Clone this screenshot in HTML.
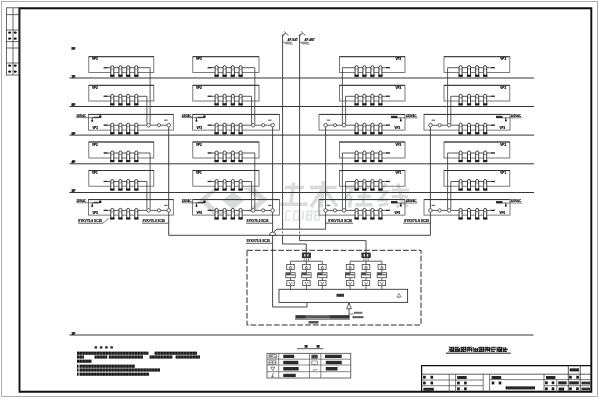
<!DOCTYPE html>
<html><head><meta charset="utf-8"><title>CATV system diagram</title>
<style>
html,body{margin:0;padding:0;background:#fff;}
body{width:600px;height:400px;overflow:hidden;font-family:"Liberation Sans",sans-serif;}
svg{display:block;font-family:"Liberation Sans",sans-serif;}
</style></head><body>
<svg width="600" height="400" viewBox="0 0 600 400">
<defs><pattern id="cjk" x="77" y="0" width="2.9" height="3.2" patternUnits="userSpaceOnUse"><rect x="0" y="0" width="2.9" height="3.2" fill="#000"/><rect x="2.5" y="0" width="0.4" height="3.2" fill="#888"/><rect x="0.9" y="1.2" width="0.6" height="0.6" fill="#666"/></pattern><filter id="bl" x="0" y="0" width="100%" height="100%"><feGaussianBlur stdDeviation="0.38"/></filter></defs>
<rect x="0" y="0" width="600" height="400" fill="#fff"/>
<g filter="url(#bl)">
<path d="M199 199.5 L214.5 187.5 L220.5 187.5 L206.5 199.5 L217 210 L225 210 L230 214.5 L213 214.5 Z" fill="#d9dcdf"/><path d="M222 200.5 L233 191.5 L244 200.5 L233 209.5 Z" fill="#d9dcdf"/><path d="M240 187.5 L254 187.5 L268 199.5 L254 212 L247 212 L259.5 199.5 L247.5 190.5 Z" fill="#d9dcdf"/><path d="M285 187.5 H304 M293.8 182.5 L290.8 204 M280.5 204.2 H307.5" fill="none" stroke="#d9dcdf" stroke-width="3.6" stroke-linecap="butt" stroke-linejoin="miter"/><path d="M310 187.5 H336.5 M323.6 181 L321 207.5 M322 190 L311 207 M325 190 L337 206.5" fill="none" stroke="#d9dcdf" stroke-width="3.6" stroke-linecap="butt" stroke-linejoin="miter"/><path d="M345 187.5 H372 M358 181.5 L345 199 M351 195 L349.5 207.5 M357.5 196.5 H371 M364.5 191.5 L363 204.5 M355.5 204.8 H372.5" fill="none" stroke="#d9dcdf" stroke-width="3.4" stroke-linecap="butt" stroke-linejoin="miter"/><path d="M386 183.5 L380 191.5 H387 L379.5 200 H388 M379 205.5 L388.5 203.5 M392 190 H409 M391.5 196.5 H408 M398 183.5 L402.5 203 L408 206.5 M409 199 L396.5 207" fill="none" stroke="#d9dcdf" stroke-width="3.0" stroke-linecap="butt" stroke-linejoin="miter"/><path d="M291 211 H286.5 L285.5 220 H290 M294.5 211 H299.5 L298.5 220 H293.5 Z M303.5 211 L302.5 220 M307.5 211 H312 L311 220 H306.5 Z M307 215.5 H311.5 M315.5 211 H320 L319 220 H314.5 Z M315 215.5 H319.5" fill="none" stroke="#dfe2e5" stroke-width="1.6" stroke-linecap="butt" stroke-linejoin="miter"/>
<rect x="1.5" y="1.5" width="596" height="395" stroke="#9a9a9a" stroke-width="0.8" fill="none" />
<path d="M19.5 8.3 H591.3 V391.8 H19.5 Z" fill="none" stroke="#111" stroke-width="1.9"/>
<rect x="6.4" y="7.8" width="12.6" height="67.2" stroke="#444" stroke-width="0.8" fill="none" />
<line x1="13" y1="7.8" x2="13" y2="75" stroke="#444" stroke-width="0.8" />
<line x1="6.4" y1="14.6" x2="19" y2="14.6" stroke="#444" stroke-width="0.8" />
<line x1="6.4" y1="30" x2="19" y2="30" stroke="#444" stroke-width="0.8" />
<line x1="6.4" y1="41.6" x2="19" y2="41.6" stroke="#444" stroke-width="0.8" />
<line x1="6.4" y1="48" x2="19" y2="48" stroke="#444" stroke-width="0.8" />
<line x1="6.4" y1="63" x2="19" y2="63" stroke="#444" stroke-width="0.8" />
<ellipse cx="9.6" cy="32.6" rx="1.5" ry="1.2" fill="#111"/>
<ellipse cx="15.2" cy="32.6" rx="1.5" ry="1.2" fill="#111"/>
<ellipse cx="9.6" cy="38.6" rx="1.5" ry="1.2" fill="#111"/>
<ellipse cx="15.2" cy="38.6" rx="1.5" ry="1.2" fill="#111"/>
<ellipse cx="9.6" cy="65.6" rx="1.5" ry="1.2" fill="#111"/>
<ellipse cx="15.2" cy="65.6" rx="1.5" ry="1.2" fill="#111"/>
<ellipse cx="9.6" cy="71.6" rx="1.5" ry="1.2" fill="#111"/>
<ellipse cx="15.2" cy="71.6" rx="1.5" ry="1.2" fill="#111"/>
<line x1="69.5" y1="78" x2="534" y2="78" stroke="#2a2a2a" stroke-width="0.95" />
<line x1="69.5" y1="106.5" x2="534" y2="106.5" stroke="#2a2a2a" stroke-width="0.95" />
<line x1="69.5" y1="135.1" x2="534" y2="135.1" stroke="#2a2a2a" stroke-width="0.95" />
<line x1="69.5" y1="163.8" x2="534" y2="163.8" stroke="#2a2a2a" stroke-width="0.95" />
<line x1="69.5" y1="192.5" x2="534" y2="192.5" stroke="#2a2a2a" stroke-width="0.95" />
<line x1="69.5" y1="335" x2="533.5" y2="335" stroke="#2a2a2a" stroke-width="0.95" />
<text x="71.4" y="49.7" font-size="3.7" fill="#000" font-weight="bold" stroke="#000" stroke-width="0.18" textLength="4.0" lengthAdjust="spacingAndGlyphs">RF</text>
<rect x="71.6" y="47.300000000000004" width="3.6" height="2.3" fill="#000" opacity="0.35" stroke="none"/>
<text x="71.4" y="77.5" font-size="3.7" fill="#000" font-weight="bold" stroke="#000" stroke-width="0.18" textLength="4.0" lengthAdjust="spacingAndGlyphs">7F</text>
<rect x="71.6" y="75.1" width="3.6" height="2.3" fill="#000" opacity="0.35" stroke="none"/>
<text x="71.4" y="106.0" font-size="3.7" fill="#000" font-weight="bold" stroke="#000" stroke-width="0.18" textLength="4.0" lengthAdjust="spacingAndGlyphs">6F</text>
<rect x="71.6" y="103.6" width="3.6" height="2.3" fill="#000" opacity="0.35" stroke="none"/>
<text x="71.4" y="134.6" font-size="3.7" fill="#000" font-weight="bold" stroke="#000" stroke-width="0.18" textLength="4.0" lengthAdjust="spacingAndGlyphs">5F</text>
<rect x="71.6" y="132.2" width="3.6" height="2.3" fill="#000" opacity="0.35" stroke="none"/>
<text x="71.4" y="163.3" font-size="3.7" fill="#000" font-weight="bold" stroke="#000" stroke-width="0.18" textLength="4.0" lengthAdjust="spacingAndGlyphs">4F</text>
<rect x="71.6" y="160.9" width="3.6" height="2.3" fill="#000" opacity="0.35" stroke="none"/>
<text x="71.4" y="192.0" font-size="3.7" fill="#000" font-weight="bold" stroke="#000" stroke-width="0.18" textLength="4.0" lengthAdjust="spacingAndGlyphs">3F</text>
<rect x="71.6" y="189.6" width="3.6" height="2.3" fill="#000" opacity="0.35" stroke="none"/>
<text x="71.4" y="334.5" font-size="3.7" fill="#000" font-weight="bold" stroke="#000" stroke-width="0.18" textLength="4.0" lengthAdjust="spacingAndGlyphs">1F</text>
<rect x="71.6" y="332.1" width="3.6" height="2.3" fill="#000" opacity="0.35" stroke="none"/>
<rect x="88.8" y="56.7" width="65.00000000000001" height="15.700000000000003" stroke="#5a5a5a" stroke-width="0.8" fill="none" />
<line x1="88.8" y1="56.7" x2="153.8" y2="56.7" stroke="#333" stroke-width="1.0" />
<line x1="104" y1="67.7" x2="150.1" y2="67.7" stroke="#333" stroke-width="0.8" />
<line x1="150.1" y1="67.7" x2="150.1" y2="123.7" stroke="#333" stroke-width="0.8" />
<rect x="103.5" y="67.0" width="4" height="1.3" fill="#222" opacity="0.8" stroke="none"/>
<path d="M110.8 76.30000000000001 V67.10000000000001 Q110.8 65.7 112.3 65.7 Q113.8 65.7 113.8 67.10000000000001 V76.30000000000001" fill="#fff" stroke="#262626" stroke-width="0.9"/>
<line x1="110.8" y1="69.10000000000001" x2="113.8" y2="69.10000000000001" stroke="#555" stroke-width="0.6" />
<rect x="110.2" y="74.7" width="4.2" height="2.2" fill="#111" opacity="0.95" stroke="none"/>
<path d="M118.9 76.30000000000001 V67.10000000000001 Q118.9 65.7 120.4 65.7 Q121.9 65.7 121.9 67.10000000000001 V76.30000000000001" fill="#fff" stroke="#262626" stroke-width="0.9"/>
<line x1="118.9" y1="69.10000000000001" x2="121.9" y2="69.10000000000001" stroke="#555" stroke-width="0.6" />
<rect x="118.30000000000001" y="74.7" width="4.2" height="2.2" fill="#111" opacity="0.95" stroke="none"/>
<path d="M126.69999999999999 76.30000000000001 V67.10000000000001 Q126.69999999999999 65.7 128.2 65.7 Q129.7 65.7 129.7 67.10000000000001 V76.30000000000001" fill="#fff" stroke="#262626" stroke-width="0.9"/>
<line x1="126.69999999999999" y1="69.10000000000001" x2="129.7" y2="69.10000000000001" stroke="#555" stroke-width="0.6" />
<rect x="126.1" y="74.7" width="4.2" height="2.2" fill="#111" opacity="0.95" stroke="none"/>
<path d="M134.8 76.30000000000001 V67.10000000000001 Q134.8 65.7 136.3 65.7 Q137.8 65.7 137.8 67.10000000000001 V76.30000000000001" fill="#fff" stroke="#262626" stroke-width="0.9"/>
<line x1="134.8" y1="69.10000000000001" x2="137.8" y2="69.10000000000001" stroke="#555" stroke-width="0.6" />
<rect x="134.20000000000002" y="74.7" width="4.2" height="2.2" fill="#111" opacity="0.95" stroke="none"/>
<text x="92.0" y="60.300000000000004" font-size="3.5" fill="#000" font-weight="bold" stroke="#000" stroke-width="0.18" textLength="5.8" lengthAdjust="spacingAndGlyphs">VP3</text>
<rect x="88.8" y="85.3" width="65.00000000000001" height="15.700000000000003" stroke="#5a5a5a" stroke-width="0.8" fill="none" />
<line x1="88.8" y1="85.3" x2="153.8" y2="85.3" stroke="#333" stroke-width="1.0" />
<line x1="104" y1="96.3" x2="146.9" y2="96.3" stroke="#333" stroke-width="0.8" />
<line x1="146.9" y1="96.3" x2="146.9" y2="123.7" stroke="#333" stroke-width="0.8" />
<rect x="103.5" y="95.6" width="4" height="1.3" fill="#222" opacity="0.8" stroke="none"/>
<path d="M110.8 104.9 V95.7 Q110.8 94.3 112.3 94.3 Q113.8 94.3 113.8 95.7 V104.9" fill="#fff" stroke="#262626" stroke-width="0.9"/>
<line x1="110.8" y1="97.7" x2="113.8" y2="97.7" stroke="#555" stroke-width="0.6" />
<rect x="110.2" y="103.3" width="4.2" height="2.2" fill="#111" opacity="0.95" stroke="none"/>
<path d="M118.9 104.9 V95.7 Q118.9 94.3 120.4 94.3 Q121.9 94.3 121.9 95.7 V104.9" fill="#fff" stroke="#262626" stroke-width="0.9"/>
<line x1="118.9" y1="97.7" x2="121.9" y2="97.7" stroke="#555" stroke-width="0.6" />
<rect x="118.30000000000001" y="103.3" width="4.2" height="2.2" fill="#111" opacity="0.95" stroke="none"/>
<path d="M126.69999999999999 104.9 V95.7 Q126.69999999999999 94.3 128.2 94.3 Q129.7 94.3 129.7 95.7 V104.9" fill="#fff" stroke="#262626" stroke-width="0.9"/>
<line x1="126.69999999999999" y1="97.7" x2="129.7" y2="97.7" stroke="#555" stroke-width="0.6" />
<rect x="126.1" y="103.3" width="4.2" height="2.2" fill="#111" opacity="0.95" stroke="none"/>
<path d="M134.8 104.9 V95.7 Q134.8 94.3 136.3 94.3 Q137.8 94.3 137.8 95.7 V104.9" fill="#fff" stroke="#262626" stroke-width="0.9"/>
<line x1="134.8" y1="97.7" x2="137.8" y2="97.7" stroke="#555" stroke-width="0.6" />
<rect x="134.20000000000002" y="103.3" width="4.2" height="2.2" fill="#111" opacity="0.95" stroke="none"/>
<text x="92.0" y="88.89999999999999" font-size="3.5" fill="#000" font-weight="bold" stroke="#000" stroke-width="0.18" textLength="5.8" lengthAdjust="spacingAndGlyphs">VP2</text>
<rect x="88.4" y="114.4" width="84.9" height="15.699999999999989" stroke="#5a5a5a" stroke-width="0.8" fill="none" />
<line x1="88.4" y1="114.4" x2="173.3" y2="114.4" stroke="#333" stroke-width="1.0" />
<line x1="104" y1="125.2" x2="168.7" y2="125.2" stroke="#333" stroke-width="0.8" />
<rect x="103.5" y="124.5" width="4" height="1.3" fill="#222" opacity="0.8" stroke="none"/>
<path d="M110.8 133.8 V124.60000000000001 Q110.8 123.2 112.3 123.2 Q113.8 123.2 113.8 124.60000000000001 V133.8" fill="#fff" stroke="#262626" stroke-width="0.9"/>
<line x1="110.8" y1="126.60000000000001" x2="113.8" y2="126.60000000000001" stroke="#555" stroke-width="0.6" />
<rect x="110.2" y="132.20000000000002" width="4.2" height="2.2" fill="#111" opacity="0.95" stroke="none"/>
<path d="M118.9 133.8 V124.60000000000001 Q118.9 123.2 120.4 123.2 Q121.9 123.2 121.9 124.60000000000001 V133.8" fill="#fff" stroke="#262626" stroke-width="0.9"/>
<line x1="118.9" y1="126.60000000000001" x2="121.9" y2="126.60000000000001" stroke="#555" stroke-width="0.6" />
<rect x="118.30000000000001" y="132.20000000000002" width="4.2" height="2.2" fill="#111" opacity="0.95" stroke="none"/>
<path d="M126.69999999999999 133.8 V124.60000000000001 Q126.69999999999999 123.2 128.2 123.2 Q129.7 123.2 129.7 124.60000000000001 V133.8" fill="#fff" stroke="#262626" stroke-width="0.9"/>
<line x1="126.69999999999999" y1="126.60000000000001" x2="129.7" y2="126.60000000000001" stroke="#555" stroke-width="0.6" />
<rect x="126.1" y="132.20000000000002" width="4.2" height="2.2" fill="#111" opacity="0.95" stroke="none"/>
<path d="M134.8 133.8 V124.60000000000001 Q134.8 123.2 136.3 123.2 Q137.8 123.2 137.8 124.60000000000001 V133.8" fill="#fff" stroke="#262626" stroke-width="0.9"/>
<line x1="134.8" y1="126.60000000000001" x2="137.8" y2="126.60000000000001" stroke="#555" stroke-width="0.6" />
<rect x="134.20000000000002" y="132.20000000000002" width="4.2" height="2.2" fill="#111" opacity="0.95" stroke="none"/>
<text x="92.4" y="128.5" font-size="3.4" fill="#000" font-weight="bold" stroke="#000" stroke-width="0.18" textLength="5.6" lengthAdjust="spacingAndGlyphs">VP3</text>
<circle cx="148.5" cy="125.2" r="1.8" stroke="#3a3a3a" stroke-width="0.8" fill="#fff"/>
<circle cx="159" cy="125.2" r="1.6" stroke="#3a3a3a" stroke-width="0.8" fill="#fff"/>
<circle cx="168.7" cy="125.2" r="1.8" stroke="#3a3a3a" stroke-width="0.8" fill="#fff"/>
<rect x="164.2" y="119.60000000000001" width="3.4" height="1.2" fill="#333" opacity="0.75" stroke="none"/>
<text x="76.4" y="117.0" font-size="3.2" fill="#111" font-weight="bold" stroke="#111" stroke-width="0.18" textLength="9.399999999999991" lengthAdjust="spacingAndGlyphs">220VAC</text>
<line x1="76.4" y1="117.6" x2="100.9" y2="117.6" stroke="#444" stroke-width="0.7" />
<rect x="99.0" y="115.4" width="2.4" height="2.4" fill="#111" opacity="0.9" stroke="none"/>
<rect x="93.4" y="116.6" width="5.5" height="1.6" fill="#222" opacity="0.7" stroke="none"/>
<line x1="92.2" y1="117.6" x2="92.2" y2="121.4" stroke="#222" stroke-width="0.9" />
<rect x="91.4" y="120.0" width="1.7" height="1.7" fill="#111" opacity="0.9" stroke="none"/>
<rect x="88.8" y="142.0" width="65.00000000000001" height="16.0" stroke="#5a5a5a" stroke-width="0.8" fill="none" />
<line x1="88.8" y1="142.0" x2="153.8" y2="142.0" stroke="#333" stroke-width="1.0" />
<line x1="104" y1="153.0" x2="150.1" y2="153.0" stroke="#333" stroke-width="0.8" />
<line x1="150.1" y1="153.0" x2="150.1" y2="208.9" stroke="#333" stroke-width="0.8" />
<rect x="103.5" y="152.3" width="4" height="1.3" fill="#222" opacity="0.8" stroke="none"/>
<path d="M110.8 161.6 V152.4 Q110.8 151.0 112.3 151.0 Q113.8 151.0 113.8 152.4 V161.6" fill="#fff" stroke="#262626" stroke-width="0.9"/>
<line x1="110.8" y1="154.4" x2="113.8" y2="154.4" stroke="#555" stroke-width="0.6" />
<rect x="110.2" y="160.0" width="4.2" height="2.2" fill="#111" opacity="0.95" stroke="none"/>
<path d="M118.9 161.6 V152.4 Q118.9 151.0 120.4 151.0 Q121.9 151.0 121.9 152.4 V161.6" fill="#fff" stroke="#262626" stroke-width="0.9"/>
<line x1="118.9" y1="154.4" x2="121.9" y2="154.4" stroke="#555" stroke-width="0.6" />
<rect x="118.30000000000001" y="160.0" width="4.2" height="2.2" fill="#111" opacity="0.95" stroke="none"/>
<path d="M126.69999999999999 161.6 V152.4 Q126.69999999999999 151.0 128.2 151.0 Q129.7 151.0 129.7 152.4 V161.6" fill="#fff" stroke="#262626" stroke-width="0.9"/>
<line x1="126.69999999999999" y1="154.4" x2="129.7" y2="154.4" stroke="#555" stroke-width="0.6" />
<rect x="126.1" y="160.0" width="4.2" height="2.2" fill="#111" opacity="0.95" stroke="none"/>
<path d="M134.8 161.6 V152.4 Q134.8 151.0 136.3 151.0 Q137.8 151.0 137.8 152.4 V161.6" fill="#fff" stroke="#262626" stroke-width="0.9"/>
<line x1="134.8" y1="154.4" x2="137.8" y2="154.4" stroke="#555" stroke-width="0.6" />
<rect x="134.20000000000002" y="160.0" width="4.2" height="2.2" fill="#111" opacity="0.95" stroke="none"/>
<text x="92.0" y="145.6" font-size="3.5" fill="#000" font-weight="bold" stroke="#000" stroke-width="0.18" textLength="5.8" lengthAdjust="spacingAndGlyphs">VP2</text>
<rect x="88.8" y="170.5" width="65.00000000000001" height="15.699999999999989" stroke="#5a5a5a" stroke-width="0.8" fill="none" />
<line x1="88.8" y1="170.5" x2="153.8" y2="170.5" stroke="#333" stroke-width="1.0" />
<line x1="104" y1="181.5" x2="146.9" y2="181.5" stroke="#333" stroke-width="0.8" />
<line x1="146.9" y1="181.5" x2="146.9" y2="208.9" stroke="#333" stroke-width="0.8" />
<rect x="103.5" y="180.8" width="4" height="1.3" fill="#222" opacity="0.8" stroke="none"/>
<path d="M110.8 190.1 V180.9 Q110.8 179.5 112.3 179.5 Q113.8 179.5 113.8 180.9 V190.1" fill="#fff" stroke="#262626" stroke-width="0.9"/>
<line x1="110.8" y1="182.9" x2="113.8" y2="182.9" stroke="#555" stroke-width="0.6" />
<rect x="110.2" y="188.5" width="4.2" height="2.2" fill="#111" opacity="0.95" stroke="none"/>
<path d="M118.9 190.1 V180.9 Q118.9 179.5 120.4 179.5 Q121.9 179.5 121.9 180.9 V190.1" fill="#fff" stroke="#262626" stroke-width="0.9"/>
<line x1="118.9" y1="182.9" x2="121.9" y2="182.9" stroke="#555" stroke-width="0.6" />
<rect x="118.30000000000001" y="188.5" width="4.2" height="2.2" fill="#111" opacity="0.95" stroke="none"/>
<path d="M126.69999999999999 190.1 V180.9 Q126.69999999999999 179.5 128.2 179.5 Q129.7 179.5 129.7 180.9 V190.1" fill="#fff" stroke="#262626" stroke-width="0.9"/>
<line x1="126.69999999999999" y1="182.9" x2="129.7" y2="182.9" stroke="#555" stroke-width="0.6" />
<rect x="126.1" y="188.5" width="4.2" height="2.2" fill="#111" opacity="0.95" stroke="none"/>
<path d="M134.8 190.1 V180.9 Q134.8 179.5 136.3 179.5 Q137.8 179.5 137.8 180.9 V190.1" fill="#fff" stroke="#262626" stroke-width="0.9"/>
<line x1="134.8" y1="182.9" x2="137.8" y2="182.9" stroke="#555" stroke-width="0.6" />
<rect x="134.20000000000002" y="188.5" width="4.2" height="2.2" fill="#111" opacity="0.95" stroke="none"/>
<text x="92.0" y="174.1" font-size="3.5" fill="#000" font-weight="bold" stroke="#000" stroke-width="0.18" textLength="5.8" lengthAdjust="spacingAndGlyphs">VP1</text>
<rect x="88.4" y="199.6" width="84.9" height="15.5" stroke="#5a5a5a" stroke-width="0.8" fill="none" />
<line x1="88.4" y1="199.6" x2="173.3" y2="199.6" stroke="#333" stroke-width="1.0" />
<line x1="104" y1="210.4" x2="168.7" y2="210.4" stroke="#333" stroke-width="0.8" />
<rect x="103.5" y="209.70000000000002" width="4" height="1.3" fill="#222" opacity="0.8" stroke="none"/>
<path d="M110.8 219.0 V209.8 Q110.8 208.4 112.3 208.4 Q113.8 208.4 113.8 209.8 V219.0" fill="#fff" stroke="#262626" stroke-width="0.9"/>
<line x1="110.8" y1="211.8" x2="113.8" y2="211.8" stroke="#555" stroke-width="0.6" />
<rect x="110.2" y="217.4" width="4.2" height="2.2" fill="#111" opacity="0.95" stroke="none"/>
<path d="M118.9 219.0 V209.8 Q118.9 208.4 120.4 208.4 Q121.9 208.4 121.9 209.8 V219.0" fill="#fff" stroke="#262626" stroke-width="0.9"/>
<line x1="118.9" y1="211.8" x2="121.9" y2="211.8" stroke="#555" stroke-width="0.6" />
<rect x="118.30000000000001" y="217.4" width="4.2" height="2.2" fill="#111" opacity="0.95" stroke="none"/>
<path d="M126.69999999999999 219.0 V209.8 Q126.69999999999999 208.4 128.2 208.4 Q129.7 208.4 129.7 209.8 V219.0" fill="#fff" stroke="#262626" stroke-width="0.9"/>
<line x1="126.69999999999999" y1="211.8" x2="129.7" y2="211.8" stroke="#555" stroke-width="0.6" />
<rect x="126.1" y="217.4" width="4.2" height="2.2" fill="#111" opacity="0.95" stroke="none"/>
<path d="M134.8 219.0 V209.8 Q134.8 208.4 136.3 208.4 Q137.8 208.4 137.8 209.8 V219.0" fill="#fff" stroke="#262626" stroke-width="0.9"/>
<line x1="134.8" y1="211.8" x2="137.8" y2="211.8" stroke="#555" stroke-width="0.6" />
<rect x="134.20000000000002" y="217.4" width="4.2" height="2.2" fill="#111" opacity="0.95" stroke="none"/>
<text x="92.4" y="213.5" font-size="3.4" fill="#000" font-weight="bold" stroke="#000" stroke-width="0.18" textLength="5.6" lengthAdjust="spacingAndGlyphs">VP0</text>
<circle cx="148.5" cy="210.4" r="1.8" stroke="#3a3a3a" stroke-width="0.8" fill="#fff"/>
<circle cx="159" cy="210.4" r="1.6" stroke="#3a3a3a" stroke-width="0.8" fill="#fff"/>
<circle cx="168.7" cy="210.4" r="1.8" stroke="#3a3a3a" stroke-width="0.8" fill="#fff"/>
<rect x="164.2" y="204.8" width="3.4" height="1.2" fill="#333" opacity="0.75" stroke="none"/>
<text x="76.4" y="202.2" font-size="3.2" fill="#111" font-weight="bold" stroke="#111" stroke-width="0.18" textLength="9.399999999999991" lengthAdjust="spacingAndGlyphs">220VAC</text>
<line x1="76.4" y1="202.79999999999998" x2="100.9" y2="202.79999999999998" stroke="#444" stroke-width="0.7" />
<rect x="99.0" y="200.6" width="2.4" height="2.4" fill="#111" opacity="0.9" stroke="none"/>
<rect x="93.4" y="201.79999999999998" width="5.5" height="1.6" fill="#222" opacity="0.7" stroke="none"/>
<line x1="92.2" y1="202.79999999999998" x2="92.2" y2="206.6" stroke="#222" stroke-width="0.9" />
<rect x="91.4" y="205.2" width="1.7" height="1.7" fill="#111" opacity="0.9" stroke="none"/>
<rect x="192.8" y="56.7" width="66.19999999999999" height="15.700000000000003" stroke="#5a5a5a" stroke-width="0.8" fill="none" />
<line x1="192.8" y1="56.7" x2="259" y2="56.7" stroke="#333" stroke-width="1.0" />
<line x1="208" y1="67.7" x2="254.79999999999998" y2="67.7" stroke="#333" stroke-width="0.8" />
<line x1="254.79999999999998" y1="67.7" x2="254.79999999999998" y2="123.7" stroke="#333" stroke-width="0.8" />
<rect x="207.5" y="67.0" width="4" height="1.3" fill="#222" opacity="0.8" stroke="none"/>
<path d="M215.1 76.30000000000001 V67.10000000000001 Q215.1 65.7 216.6 65.7 Q218.1 65.7 218.1 67.10000000000001 V76.30000000000001" fill="#fff" stroke="#262626" stroke-width="0.9"/>
<line x1="215.1" y1="69.10000000000001" x2="218.1" y2="69.10000000000001" stroke="#555" stroke-width="0.6" />
<rect x="214.5" y="74.7" width="4.2" height="2.2" fill="#111" opacity="0.95" stroke="none"/>
<path d="M223.1 76.30000000000001 V67.10000000000001 Q223.1 65.7 224.6 65.7 Q226.1 65.7 226.1 67.10000000000001 V76.30000000000001" fill="#fff" stroke="#262626" stroke-width="0.9"/>
<line x1="223.1" y1="69.10000000000001" x2="226.1" y2="69.10000000000001" stroke="#555" stroke-width="0.6" />
<rect x="222.5" y="74.7" width="4.2" height="2.2" fill="#111" opacity="0.95" stroke="none"/>
<path d="M231.3 76.30000000000001 V67.10000000000001 Q231.3 65.7 232.8 65.7 Q234.3 65.7 234.3 67.10000000000001 V76.30000000000001" fill="#fff" stroke="#262626" stroke-width="0.9"/>
<line x1="231.3" y1="69.10000000000001" x2="234.3" y2="69.10000000000001" stroke="#555" stroke-width="0.6" />
<rect x="230.70000000000002" y="74.7" width="4.2" height="2.2" fill="#111" opacity="0.95" stroke="none"/>
<path d="M239.1 76.30000000000001 V67.10000000000001 Q239.1 65.7 240.6 65.7 Q242.1 65.7 242.1 67.10000000000001 V76.30000000000001" fill="#fff" stroke="#262626" stroke-width="0.9"/>
<line x1="239.1" y1="69.10000000000001" x2="242.1" y2="69.10000000000001" stroke="#555" stroke-width="0.6" />
<rect x="238.5" y="74.7" width="4.2" height="2.2" fill="#111" opacity="0.95" stroke="none"/>
<text x="196.0" y="60.300000000000004" font-size="3.5" fill="#000" font-weight="bold" stroke="#000" stroke-width="0.18" textLength="5.8" lengthAdjust="spacingAndGlyphs">VP3</text>
<rect x="192.8" y="85.3" width="66.19999999999999" height="15.700000000000003" stroke="#5a5a5a" stroke-width="0.8" fill="none" />
<line x1="192.8" y1="85.3" x2="259" y2="85.3" stroke="#333" stroke-width="1.0" />
<line x1="208" y1="96.3" x2="251.6" y2="96.3" stroke="#333" stroke-width="0.8" />
<line x1="251.6" y1="96.3" x2="251.6" y2="123.7" stroke="#333" stroke-width="0.8" />
<rect x="207.5" y="95.6" width="4" height="1.3" fill="#222" opacity="0.8" stroke="none"/>
<path d="M215.1 104.9 V95.7 Q215.1 94.3 216.6 94.3 Q218.1 94.3 218.1 95.7 V104.9" fill="#fff" stroke="#262626" stroke-width="0.9"/>
<line x1="215.1" y1="97.7" x2="218.1" y2="97.7" stroke="#555" stroke-width="0.6" />
<rect x="214.5" y="103.3" width="4.2" height="2.2" fill="#111" opacity="0.95" stroke="none"/>
<path d="M223.1 104.9 V95.7 Q223.1 94.3 224.6 94.3 Q226.1 94.3 226.1 95.7 V104.9" fill="#fff" stroke="#262626" stroke-width="0.9"/>
<line x1="223.1" y1="97.7" x2="226.1" y2="97.7" stroke="#555" stroke-width="0.6" />
<rect x="222.5" y="103.3" width="4.2" height="2.2" fill="#111" opacity="0.95" stroke="none"/>
<path d="M231.3 104.9 V95.7 Q231.3 94.3 232.8 94.3 Q234.3 94.3 234.3 95.7 V104.9" fill="#fff" stroke="#262626" stroke-width="0.9"/>
<line x1="231.3" y1="97.7" x2="234.3" y2="97.7" stroke="#555" stroke-width="0.6" />
<rect x="230.70000000000002" y="103.3" width="4.2" height="2.2" fill="#111" opacity="0.95" stroke="none"/>
<path d="M239.1 104.9 V95.7 Q239.1 94.3 240.6 94.3 Q242.1 94.3 242.1 95.7 V104.9" fill="#fff" stroke="#262626" stroke-width="0.9"/>
<line x1="239.1" y1="97.7" x2="242.1" y2="97.7" stroke="#555" stroke-width="0.6" />
<rect x="238.5" y="103.3" width="4.2" height="2.2" fill="#111" opacity="0.95" stroke="none"/>
<text x="196.0" y="88.89999999999999" font-size="3.5" fill="#000" font-weight="bold" stroke="#000" stroke-width="0.18" textLength="5.8" lengthAdjust="spacingAndGlyphs">VP2</text>
<rect x="192.6" y="114.4" width="86.9" height="15.699999999999989" stroke="#5a5a5a" stroke-width="0.8" fill="none" />
<line x1="192.6" y1="114.4" x2="279.5" y2="114.4" stroke="#333" stroke-width="1.0" />
<line x1="208" y1="125.2" x2="272.6" y2="125.2" stroke="#333" stroke-width="0.8" />
<rect x="207.5" y="124.5" width="4" height="1.3" fill="#222" opacity="0.8" stroke="none"/>
<path d="M215.1 133.8 V124.60000000000001 Q215.1 123.2 216.6 123.2 Q218.1 123.2 218.1 124.60000000000001 V133.8" fill="#fff" stroke="#262626" stroke-width="0.9"/>
<line x1="215.1" y1="126.60000000000001" x2="218.1" y2="126.60000000000001" stroke="#555" stroke-width="0.6" />
<rect x="214.5" y="132.20000000000002" width="4.2" height="2.2" fill="#111" opacity="0.95" stroke="none"/>
<path d="M223.1 133.8 V124.60000000000001 Q223.1 123.2 224.6 123.2 Q226.1 123.2 226.1 124.60000000000001 V133.8" fill="#fff" stroke="#262626" stroke-width="0.9"/>
<line x1="223.1" y1="126.60000000000001" x2="226.1" y2="126.60000000000001" stroke="#555" stroke-width="0.6" />
<rect x="222.5" y="132.20000000000002" width="4.2" height="2.2" fill="#111" opacity="0.95" stroke="none"/>
<path d="M231.3 133.8 V124.60000000000001 Q231.3 123.2 232.8 123.2 Q234.3 123.2 234.3 124.60000000000001 V133.8" fill="#fff" stroke="#262626" stroke-width="0.9"/>
<line x1="231.3" y1="126.60000000000001" x2="234.3" y2="126.60000000000001" stroke="#555" stroke-width="0.6" />
<rect x="230.70000000000002" y="132.20000000000002" width="4.2" height="2.2" fill="#111" opacity="0.95" stroke="none"/>
<path d="M239.1 133.8 V124.60000000000001 Q239.1 123.2 240.6 123.2 Q242.1 123.2 242.1 124.60000000000001 V133.8" fill="#fff" stroke="#262626" stroke-width="0.9"/>
<line x1="239.1" y1="126.60000000000001" x2="242.1" y2="126.60000000000001" stroke="#555" stroke-width="0.6" />
<rect x="238.5" y="132.20000000000002" width="4.2" height="2.2" fill="#111" opacity="0.95" stroke="none"/>
<text x="196.6" y="128.5" font-size="3.4" fill="#000" font-weight="bold" stroke="#000" stroke-width="0.18" textLength="5.6" lengthAdjust="spacingAndGlyphs">VP3</text>
<circle cx="253.2" cy="125.2" r="1.8" stroke="#3a3a3a" stroke-width="0.8" fill="#fff"/>
<circle cx="263.2" cy="125.2" r="1.6" stroke="#3a3a3a" stroke-width="0.8" fill="#fff"/>
<circle cx="272.6" cy="125.2" r="1.8" stroke="#3a3a3a" stroke-width="0.8" fill="#fff"/>
<rect x="268.1" y="119.60000000000001" width="3.4" height="1.2" fill="#333" opacity="0.75" stroke="none"/>
<text x="181.7" y="117.0" font-size="3.2" fill="#111" font-weight="bold" stroke="#111" stroke-width="0.18" textLength="9.600000000000023" lengthAdjust="spacingAndGlyphs">220VAC</text>
<line x1="181.7" y1="117.6" x2="205.1" y2="117.6" stroke="#444" stroke-width="0.7" />
<rect x="203.2" y="115.4" width="2.4" height="2.4" fill="#111" opacity="0.9" stroke="none"/>
<rect x="197.6" y="116.6" width="5.5" height="1.6" fill="#222" opacity="0.7" stroke="none"/>
<line x1="196.4" y1="117.6" x2="196.4" y2="121.4" stroke="#222" stroke-width="0.9" />
<rect x="195.6" y="120.0" width="1.7" height="1.7" fill="#111" opacity="0.9" stroke="none"/>
<rect x="192.8" y="142.0" width="66.19999999999999" height="16.0" stroke="#5a5a5a" stroke-width="0.8" fill="none" />
<line x1="192.8" y1="142.0" x2="259" y2="142.0" stroke="#333" stroke-width="1.0" />
<line x1="208" y1="153.0" x2="254.79999999999998" y2="153.0" stroke="#333" stroke-width="0.8" />
<line x1="254.79999999999998" y1="153.0" x2="254.79999999999998" y2="208.9" stroke="#333" stroke-width="0.8" />
<rect x="207.5" y="152.3" width="4" height="1.3" fill="#222" opacity="0.8" stroke="none"/>
<path d="M215.1 161.6 V152.4 Q215.1 151.0 216.6 151.0 Q218.1 151.0 218.1 152.4 V161.6" fill="#fff" stroke="#262626" stroke-width="0.9"/>
<line x1="215.1" y1="154.4" x2="218.1" y2="154.4" stroke="#555" stroke-width="0.6" />
<rect x="214.5" y="160.0" width="4.2" height="2.2" fill="#111" opacity="0.95" stroke="none"/>
<path d="M223.1 161.6 V152.4 Q223.1 151.0 224.6 151.0 Q226.1 151.0 226.1 152.4 V161.6" fill="#fff" stroke="#262626" stroke-width="0.9"/>
<line x1="223.1" y1="154.4" x2="226.1" y2="154.4" stroke="#555" stroke-width="0.6" />
<rect x="222.5" y="160.0" width="4.2" height="2.2" fill="#111" opacity="0.95" stroke="none"/>
<path d="M231.3 161.6 V152.4 Q231.3 151.0 232.8 151.0 Q234.3 151.0 234.3 152.4 V161.6" fill="#fff" stroke="#262626" stroke-width="0.9"/>
<line x1="231.3" y1="154.4" x2="234.3" y2="154.4" stroke="#555" stroke-width="0.6" />
<rect x="230.70000000000002" y="160.0" width="4.2" height="2.2" fill="#111" opacity="0.95" stroke="none"/>
<path d="M239.1 161.6 V152.4 Q239.1 151.0 240.6 151.0 Q242.1 151.0 242.1 152.4 V161.6" fill="#fff" stroke="#262626" stroke-width="0.9"/>
<line x1="239.1" y1="154.4" x2="242.1" y2="154.4" stroke="#555" stroke-width="0.6" />
<rect x="238.5" y="160.0" width="4.2" height="2.2" fill="#111" opacity="0.95" stroke="none"/>
<text x="196.0" y="145.6" font-size="3.5" fill="#000" font-weight="bold" stroke="#000" stroke-width="0.18" textLength="5.8" lengthAdjust="spacingAndGlyphs">VP2</text>
<rect x="192.8" y="170.5" width="66.19999999999999" height="15.699999999999989" stroke="#5a5a5a" stroke-width="0.8" fill="none" />
<line x1="192.8" y1="170.5" x2="259" y2="170.5" stroke="#333" stroke-width="1.0" />
<line x1="208" y1="181.5" x2="251.6" y2="181.5" stroke="#333" stroke-width="0.8" />
<line x1="251.6" y1="181.5" x2="251.6" y2="208.9" stroke="#333" stroke-width="0.8" />
<rect x="207.5" y="180.8" width="4" height="1.3" fill="#222" opacity="0.8" stroke="none"/>
<path d="M215.1 190.1 V180.9 Q215.1 179.5 216.6 179.5 Q218.1 179.5 218.1 180.9 V190.1" fill="#fff" stroke="#262626" stroke-width="0.9"/>
<line x1="215.1" y1="182.9" x2="218.1" y2="182.9" stroke="#555" stroke-width="0.6" />
<rect x="214.5" y="188.5" width="4.2" height="2.2" fill="#111" opacity="0.95" stroke="none"/>
<path d="M223.1 190.1 V180.9 Q223.1 179.5 224.6 179.5 Q226.1 179.5 226.1 180.9 V190.1" fill="#fff" stroke="#262626" stroke-width="0.9"/>
<line x1="223.1" y1="182.9" x2="226.1" y2="182.9" stroke="#555" stroke-width="0.6" />
<rect x="222.5" y="188.5" width="4.2" height="2.2" fill="#111" opacity="0.95" stroke="none"/>
<path d="M231.3 190.1 V180.9 Q231.3 179.5 232.8 179.5 Q234.3 179.5 234.3 180.9 V190.1" fill="#fff" stroke="#262626" stroke-width="0.9"/>
<line x1="231.3" y1="182.9" x2="234.3" y2="182.9" stroke="#555" stroke-width="0.6" />
<rect x="230.70000000000002" y="188.5" width="4.2" height="2.2" fill="#111" opacity="0.95" stroke="none"/>
<path d="M239.1 190.1 V180.9 Q239.1 179.5 240.6 179.5 Q242.1 179.5 242.1 180.9 V190.1" fill="#fff" stroke="#262626" stroke-width="0.9"/>
<line x1="239.1" y1="182.9" x2="242.1" y2="182.9" stroke="#555" stroke-width="0.6" />
<rect x="238.5" y="188.5" width="4.2" height="2.2" fill="#111" opacity="0.95" stroke="none"/>
<text x="196.0" y="174.1" font-size="3.5" fill="#000" font-weight="bold" stroke="#000" stroke-width="0.18" textLength="5.8" lengthAdjust="spacingAndGlyphs">VP1</text>
<rect x="192.6" y="199.6" width="86.9" height="15.5" stroke="#5a5a5a" stroke-width="0.8" fill="none" />
<line x1="192.6" y1="199.6" x2="279.5" y2="199.6" stroke="#333" stroke-width="1.0" />
<line x1="208" y1="210.4" x2="272.6" y2="210.4" stroke="#333" stroke-width="0.8" />
<rect x="207.5" y="209.70000000000002" width="4" height="1.3" fill="#222" opacity="0.8" stroke="none"/>
<path d="M215.1 219.0 V209.8 Q215.1 208.4 216.6 208.4 Q218.1 208.4 218.1 209.8 V219.0" fill="#fff" stroke="#262626" stroke-width="0.9"/>
<line x1="215.1" y1="211.8" x2="218.1" y2="211.8" stroke="#555" stroke-width="0.6" />
<rect x="214.5" y="217.4" width="4.2" height="2.2" fill="#111" opacity="0.95" stroke="none"/>
<path d="M223.1 219.0 V209.8 Q223.1 208.4 224.6 208.4 Q226.1 208.4 226.1 209.8 V219.0" fill="#fff" stroke="#262626" stroke-width="0.9"/>
<line x1="223.1" y1="211.8" x2="226.1" y2="211.8" stroke="#555" stroke-width="0.6" />
<rect x="222.5" y="217.4" width="4.2" height="2.2" fill="#111" opacity="0.95" stroke="none"/>
<path d="M231.3 219.0 V209.8 Q231.3 208.4 232.8 208.4 Q234.3 208.4 234.3 209.8 V219.0" fill="#fff" stroke="#262626" stroke-width="0.9"/>
<line x1="231.3" y1="211.8" x2="234.3" y2="211.8" stroke="#555" stroke-width="0.6" />
<rect x="230.70000000000002" y="217.4" width="4.2" height="2.2" fill="#111" opacity="0.95" stroke="none"/>
<path d="M239.1 219.0 V209.8 Q239.1 208.4 240.6 208.4 Q242.1 208.4 242.1 209.8 V219.0" fill="#fff" stroke="#262626" stroke-width="0.9"/>
<line x1="239.1" y1="211.8" x2="242.1" y2="211.8" stroke="#555" stroke-width="0.6" />
<rect x="238.5" y="217.4" width="4.2" height="2.2" fill="#111" opacity="0.95" stroke="none"/>
<text x="196.6" y="213.5" font-size="3.4" fill="#000" font-weight="bold" stroke="#000" stroke-width="0.18" textLength="5.6" lengthAdjust="spacingAndGlyphs">VP0</text>
<circle cx="253.2" cy="210.4" r="1.8" stroke="#3a3a3a" stroke-width="0.8" fill="#fff"/>
<circle cx="263.2" cy="210.4" r="1.6" stroke="#3a3a3a" stroke-width="0.8" fill="#fff"/>
<circle cx="272.6" cy="210.4" r="1.8" stroke="#3a3a3a" stroke-width="0.8" fill="#fff"/>
<rect x="268.1" y="204.8" width="3.4" height="1.2" fill="#333" opacity="0.75" stroke="none"/>
<text x="181.7" y="202.2" font-size="3.2" fill="#111" font-weight="bold" stroke="#111" stroke-width="0.18" textLength="9.600000000000023" lengthAdjust="spacingAndGlyphs">220VAC</text>
<line x1="181.7" y1="202.79999999999998" x2="205.1" y2="202.79999999999998" stroke="#444" stroke-width="0.7" />
<rect x="203.2" y="200.6" width="2.4" height="2.4" fill="#111" opacity="0.9" stroke="none"/>
<rect x="197.6" y="201.79999999999998" width="5.5" height="1.6" fill="#222" opacity="0.7" stroke="none"/>
<line x1="196.4" y1="202.79999999999998" x2="196.4" y2="206.6" stroke="#222" stroke-width="0.9" />
<rect x="195.6" y="205.2" width="1.7" height="1.7" fill="#111" opacity="0.9" stroke="none"/>
<rect x="339.4" y="56.7" width="65.60000000000002" height="15.700000000000003" stroke="#5a5a5a" stroke-width="0.8" fill="none" />
<line x1="339.4" y1="56.7" x2="405" y2="56.7" stroke="#333" stroke-width="1.0" />
<line x1="389.5" y1="67.7" x2="342.4" y2="67.7" stroke="#333" stroke-width="0.8" />
<line x1="342.4" y1="67.7" x2="342.4" y2="123.7" stroke="#333" stroke-width="0.8" />
<rect x="386.0" y="67.0" width="4" height="1.3" fill="#222" opacity="0.8" stroke="none"/>
<path d="M378.9 76.30000000000001 V67.10000000000001 Q378.9 65.7 380.4 65.7 Q381.9 65.7 381.9 67.10000000000001 V76.30000000000001" fill="#fff" stroke="#262626" stroke-width="0.9"/>
<line x1="378.9" y1="69.10000000000001" x2="381.9" y2="69.10000000000001" stroke="#555" stroke-width="0.6" />
<rect x="378.29999999999995" y="74.7" width="4.2" height="2.2" fill="#111" opacity="0.95" stroke="none"/>
<path d="M370.9 76.30000000000001 V67.10000000000001 Q370.9 65.7 372.4 65.7 Q373.9 65.7 373.9 67.10000000000001 V76.30000000000001" fill="#fff" stroke="#262626" stroke-width="0.9"/>
<line x1="370.9" y1="69.10000000000001" x2="373.9" y2="69.10000000000001" stroke="#555" stroke-width="0.6" />
<rect x="370.29999999999995" y="74.7" width="4.2" height="2.2" fill="#111" opacity="0.95" stroke="none"/>
<path d="M362.9 76.30000000000001 V67.10000000000001 Q362.9 65.7 364.4 65.7 Q365.9 65.7 365.9 67.10000000000001 V76.30000000000001" fill="#fff" stroke="#262626" stroke-width="0.9"/>
<line x1="362.9" y1="69.10000000000001" x2="365.9" y2="69.10000000000001" stroke="#555" stroke-width="0.6" />
<rect x="362.29999999999995" y="74.7" width="4.2" height="2.2" fill="#111" opacity="0.95" stroke="none"/>
<path d="M355.1 76.30000000000001 V67.10000000000001 Q355.1 65.7 356.6 65.7 Q358.1 65.7 358.1 67.10000000000001 V76.30000000000001" fill="#fff" stroke="#262626" stroke-width="0.9"/>
<line x1="355.1" y1="69.10000000000001" x2="358.1" y2="69.10000000000001" stroke="#555" stroke-width="0.6" />
<rect x="354.5" y="74.7" width="4.2" height="2.2" fill="#111" opacity="0.95" stroke="none"/>
<text x="395.5" y="60.300000000000004" font-size="3.5" fill="#000" font-weight="bold" stroke="#000" stroke-width="0.18" textLength="5.8" lengthAdjust="spacingAndGlyphs">VP3</text>
<rect x="339.4" y="85.3" width="65.60000000000002" height="15.700000000000003" stroke="#5a5a5a" stroke-width="0.8" fill="none" />
<line x1="339.4" y1="85.3" x2="405" y2="85.3" stroke="#333" stroke-width="1.0" />
<line x1="389.5" y1="96.3" x2="345.6" y2="96.3" stroke="#333" stroke-width="0.8" />
<line x1="345.6" y1="96.3" x2="345.6" y2="123.7" stroke="#333" stroke-width="0.8" />
<rect x="386.0" y="95.6" width="4" height="1.3" fill="#222" opacity="0.8" stroke="none"/>
<path d="M378.9 104.9 V95.7 Q378.9 94.3 380.4 94.3 Q381.9 94.3 381.9 95.7 V104.9" fill="#fff" stroke="#262626" stroke-width="0.9"/>
<line x1="378.9" y1="97.7" x2="381.9" y2="97.7" stroke="#555" stroke-width="0.6" />
<rect x="378.29999999999995" y="103.3" width="4.2" height="2.2" fill="#111" opacity="0.95" stroke="none"/>
<path d="M370.9 104.9 V95.7 Q370.9 94.3 372.4 94.3 Q373.9 94.3 373.9 95.7 V104.9" fill="#fff" stroke="#262626" stroke-width="0.9"/>
<line x1="370.9" y1="97.7" x2="373.9" y2="97.7" stroke="#555" stroke-width="0.6" />
<rect x="370.29999999999995" y="103.3" width="4.2" height="2.2" fill="#111" opacity="0.95" stroke="none"/>
<path d="M362.9 104.9 V95.7 Q362.9 94.3 364.4 94.3 Q365.9 94.3 365.9 95.7 V104.9" fill="#fff" stroke="#262626" stroke-width="0.9"/>
<line x1="362.9" y1="97.7" x2="365.9" y2="97.7" stroke="#555" stroke-width="0.6" />
<rect x="362.29999999999995" y="103.3" width="4.2" height="2.2" fill="#111" opacity="0.95" stroke="none"/>
<path d="M355.1 104.9 V95.7 Q355.1 94.3 356.6 94.3 Q358.1 94.3 358.1 95.7 V104.9" fill="#fff" stroke="#262626" stroke-width="0.9"/>
<line x1="355.1" y1="97.7" x2="358.1" y2="97.7" stroke="#555" stroke-width="0.6" />
<rect x="354.5" y="103.3" width="4.2" height="2.2" fill="#111" opacity="0.95" stroke="none"/>
<text x="395.5" y="88.89999999999999" font-size="3.5" fill="#000" font-weight="bold" stroke="#000" stroke-width="0.18" textLength="5.8" lengthAdjust="spacingAndGlyphs">VP2</text>
<rect x="319" y="114.4" width="86" height="15.699999999999989" stroke="#5a5a5a" stroke-width="0.8" fill="none" />
<line x1="319" y1="114.4" x2="405" y2="114.4" stroke="#333" stroke-width="1.0" />
<line x1="389.5" y1="125.2" x2="325.6" y2="125.2" stroke="#333" stroke-width="0.8" />
<rect x="386.0" y="124.5" width="4" height="1.3" fill="#222" opacity="0.8" stroke="none"/>
<path d="M378.9 133.8 V124.60000000000001 Q378.9 123.2 380.4 123.2 Q381.9 123.2 381.9 124.60000000000001 V133.8" fill="#fff" stroke="#262626" stroke-width="0.9"/>
<line x1="378.9" y1="126.60000000000001" x2="381.9" y2="126.60000000000001" stroke="#555" stroke-width="0.6" />
<rect x="378.29999999999995" y="132.20000000000002" width="4.2" height="2.2" fill="#111" opacity="0.95" stroke="none"/>
<path d="M370.9 133.8 V124.60000000000001 Q370.9 123.2 372.4 123.2 Q373.9 123.2 373.9 124.60000000000001 V133.8" fill="#fff" stroke="#262626" stroke-width="0.9"/>
<line x1="370.9" y1="126.60000000000001" x2="373.9" y2="126.60000000000001" stroke="#555" stroke-width="0.6" />
<rect x="370.29999999999995" y="132.20000000000002" width="4.2" height="2.2" fill="#111" opacity="0.95" stroke="none"/>
<path d="M362.9 133.8 V124.60000000000001 Q362.9 123.2 364.4 123.2 Q365.9 123.2 365.9 124.60000000000001 V133.8" fill="#fff" stroke="#262626" stroke-width="0.9"/>
<line x1="362.9" y1="126.60000000000001" x2="365.9" y2="126.60000000000001" stroke="#555" stroke-width="0.6" />
<rect x="362.29999999999995" y="132.20000000000002" width="4.2" height="2.2" fill="#111" opacity="0.95" stroke="none"/>
<path d="M355.1 133.8 V124.60000000000001 Q355.1 123.2 356.6 123.2 Q358.1 123.2 358.1 124.60000000000001 V133.8" fill="#fff" stroke="#262626" stroke-width="0.9"/>
<line x1="355.1" y1="126.60000000000001" x2="358.1" y2="126.60000000000001" stroke="#555" stroke-width="0.6" />
<rect x="354.5" y="132.20000000000002" width="4.2" height="2.2" fill="#111" opacity="0.95" stroke="none"/>
<text x="394.5" y="128.5" font-size="3.4" fill="#000" font-weight="bold" stroke="#000" stroke-width="0.18" textLength="5.6" lengthAdjust="spacingAndGlyphs">VP3</text>
<circle cx="344" cy="125.2" r="1.8" stroke="#3a3a3a" stroke-width="0.8" fill="#fff"/>
<circle cx="335" cy="125.2" r="1.6" stroke="#3a3a3a" stroke-width="0.8" fill="#fff"/>
<circle cx="325.6" cy="125.2" r="1.8" stroke="#3a3a3a" stroke-width="0.8" fill="#fff"/>
<rect x="326.8" y="119.60000000000001" width="3.4" height="1.2" fill="#333" opacity="0.75" stroke="none"/>
<text x="406" y="117.2" font-size="3.2" fill="#111" font-weight="bold" stroke="#111" stroke-width="0.18" textLength="10.5" lengthAdjust="spacingAndGlyphs">220VAC</text>
<line x1="391.5" y1="117.8" x2="417.5" y2="117.8" stroke="#444" stroke-width="0.7" />
<rect x="391" y="115.8" width="6.5" height="2.2" fill="#111" opacity="0.85" stroke="none"/>
<line x1="400.8" y1="117.8" x2="400.8" y2="121.2" stroke="#222" stroke-width="0.9" />
<rect x="400.0" y="119.6" width="1.7" height="1.7" fill="#111" opacity="0.9" stroke="none"/>
<rect x="339.4" y="142.0" width="65.60000000000002" height="16.0" stroke="#5a5a5a" stroke-width="0.8" fill="none" />
<line x1="339.4" y1="142.0" x2="405" y2="142.0" stroke="#333" stroke-width="1.0" />
<line x1="389.5" y1="153.0" x2="342.4" y2="153.0" stroke="#333" stroke-width="0.8" />
<line x1="342.4" y1="153.0" x2="342.4" y2="208.9" stroke="#333" stroke-width="0.8" />
<rect x="386.0" y="152.3" width="4" height="1.3" fill="#222" opacity="0.8" stroke="none"/>
<path d="M378.9 161.6 V152.4 Q378.9 151.0 380.4 151.0 Q381.9 151.0 381.9 152.4 V161.6" fill="#fff" stroke="#262626" stroke-width="0.9"/>
<line x1="378.9" y1="154.4" x2="381.9" y2="154.4" stroke="#555" stroke-width="0.6" />
<rect x="378.29999999999995" y="160.0" width="4.2" height="2.2" fill="#111" opacity="0.95" stroke="none"/>
<path d="M370.9 161.6 V152.4 Q370.9 151.0 372.4 151.0 Q373.9 151.0 373.9 152.4 V161.6" fill="#fff" stroke="#262626" stroke-width="0.9"/>
<line x1="370.9" y1="154.4" x2="373.9" y2="154.4" stroke="#555" stroke-width="0.6" />
<rect x="370.29999999999995" y="160.0" width="4.2" height="2.2" fill="#111" opacity="0.95" stroke="none"/>
<path d="M362.9 161.6 V152.4 Q362.9 151.0 364.4 151.0 Q365.9 151.0 365.9 152.4 V161.6" fill="#fff" stroke="#262626" stroke-width="0.9"/>
<line x1="362.9" y1="154.4" x2="365.9" y2="154.4" stroke="#555" stroke-width="0.6" />
<rect x="362.29999999999995" y="160.0" width="4.2" height="2.2" fill="#111" opacity="0.95" stroke="none"/>
<path d="M355.1 161.6 V152.4 Q355.1 151.0 356.6 151.0 Q358.1 151.0 358.1 152.4 V161.6" fill="#fff" stroke="#262626" stroke-width="0.9"/>
<line x1="355.1" y1="154.4" x2="358.1" y2="154.4" stroke="#555" stroke-width="0.6" />
<rect x="354.5" y="160.0" width="4.2" height="2.2" fill="#111" opacity="0.95" stroke="none"/>
<text x="395.5" y="145.6" font-size="3.5" fill="#000" font-weight="bold" stroke="#000" stroke-width="0.18" textLength="5.8" lengthAdjust="spacingAndGlyphs">VP2</text>
<rect x="339.4" y="170.5" width="65.60000000000002" height="15.699999999999989" stroke="#5a5a5a" stroke-width="0.8" fill="none" />
<line x1="339.4" y1="170.5" x2="405" y2="170.5" stroke="#333" stroke-width="1.0" />
<line x1="389.5" y1="181.5" x2="345.6" y2="181.5" stroke="#333" stroke-width="0.8" />
<line x1="345.6" y1="181.5" x2="345.6" y2="208.9" stroke="#333" stroke-width="0.8" />
<rect x="386.0" y="180.8" width="4" height="1.3" fill="#222" opacity="0.8" stroke="none"/>
<path d="M378.9 190.1 V180.9 Q378.9 179.5 380.4 179.5 Q381.9 179.5 381.9 180.9 V190.1" fill="#fff" stroke="#262626" stroke-width="0.9"/>
<line x1="378.9" y1="182.9" x2="381.9" y2="182.9" stroke="#555" stroke-width="0.6" />
<rect x="378.29999999999995" y="188.5" width="4.2" height="2.2" fill="#111" opacity="0.95" stroke="none"/>
<path d="M370.9 190.1 V180.9 Q370.9 179.5 372.4 179.5 Q373.9 179.5 373.9 180.9 V190.1" fill="#fff" stroke="#262626" stroke-width="0.9"/>
<line x1="370.9" y1="182.9" x2="373.9" y2="182.9" stroke="#555" stroke-width="0.6" />
<rect x="370.29999999999995" y="188.5" width="4.2" height="2.2" fill="#111" opacity="0.95" stroke="none"/>
<path d="M362.9 190.1 V180.9 Q362.9 179.5 364.4 179.5 Q365.9 179.5 365.9 180.9 V190.1" fill="#fff" stroke="#262626" stroke-width="0.9"/>
<line x1="362.9" y1="182.9" x2="365.9" y2="182.9" stroke="#555" stroke-width="0.6" />
<rect x="362.29999999999995" y="188.5" width="4.2" height="2.2" fill="#111" opacity="0.95" stroke="none"/>
<path d="M355.1 190.1 V180.9 Q355.1 179.5 356.6 179.5 Q358.1 179.5 358.1 180.9 V190.1" fill="#fff" stroke="#262626" stroke-width="0.9"/>
<line x1="355.1" y1="182.9" x2="358.1" y2="182.9" stroke="#555" stroke-width="0.6" />
<rect x="354.5" y="188.5" width="4.2" height="2.2" fill="#111" opacity="0.95" stroke="none"/>
<text x="395.5" y="174.1" font-size="3.5" fill="#000" font-weight="bold" stroke="#000" stroke-width="0.18" textLength="5.8" lengthAdjust="spacingAndGlyphs">VP1</text>
<rect x="319" y="199.6" width="86" height="15.5" stroke="#5a5a5a" stroke-width="0.8" fill="none" />
<line x1="319" y1="199.6" x2="405" y2="199.6" stroke="#333" stroke-width="1.0" />
<line x1="389.5" y1="210.4" x2="325.6" y2="210.4" stroke="#333" stroke-width="0.8" />
<rect x="386.0" y="209.70000000000002" width="4" height="1.3" fill="#222" opacity="0.8" stroke="none"/>
<path d="M378.9 219.0 V209.8 Q378.9 208.4 380.4 208.4 Q381.9 208.4 381.9 209.8 V219.0" fill="#fff" stroke="#262626" stroke-width="0.9"/>
<line x1="378.9" y1="211.8" x2="381.9" y2="211.8" stroke="#555" stroke-width="0.6" />
<rect x="378.29999999999995" y="217.4" width="4.2" height="2.2" fill="#111" opacity="0.95" stroke="none"/>
<path d="M370.9 219.0 V209.8 Q370.9 208.4 372.4 208.4 Q373.9 208.4 373.9 209.8 V219.0" fill="#fff" stroke="#262626" stroke-width="0.9"/>
<line x1="370.9" y1="211.8" x2="373.9" y2="211.8" stroke="#555" stroke-width="0.6" />
<rect x="370.29999999999995" y="217.4" width="4.2" height="2.2" fill="#111" opacity="0.95" stroke="none"/>
<path d="M362.9 219.0 V209.8 Q362.9 208.4 364.4 208.4 Q365.9 208.4 365.9 209.8 V219.0" fill="#fff" stroke="#262626" stroke-width="0.9"/>
<line x1="362.9" y1="211.8" x2="365.9" y2="211.8" stroke="#555" stroke-width="0.6" />
<rect x="362.29999999999995" y="217.4" width="4.2" height="2.2" fill="#111" opacity="0.95" stroke="none"/>
<path d="M355.1 219.0 V209.8 Q355.1 208.4 356.6 208.4 Q358.1 208.4 358.1 209.8 V219.0" fill="#fff" stroke="#262626" stroke-width="0.9"/>
<line x1="355.1" y1="211.8" x2="358.1" y2="211.8" stroke="#555" stroke-width="0.6" />
<rect x="354.5" y="217.4" width="4.2" height="2.2" fill="#111" opacity="0.95" stroke="none"/>
<text x="394.5" y="213.5" font-size="3.4" fill="#000" font-weight="bold" stroke="#000" stroke-width="0.18" textLength="5.6" lengthAdjust="spacingAndGlyphs">VP0</text>
<circle cx="344" cy="210.4" r="1.8" stroke="#3a3a3a" stroke-width="0.8" fill="#fff"/>
<circle cx="335" cy="210.4" r="1.6" stroke="#3a3a3a" stroke-width="0.8" fill="#fff"/>
<circle cx="325.6" cy="210.4" r="1.8" stroke="#3a3a3a" stroke-width="0.8" fill="#fff"/>
<rect x="326.8" y="204.8" width="3.4" height="1.2" fill="#333" opacity="0.75" stroke="none"/>
<text x="406" y="202.39999999999998" font-size="3.2" fill="#111" font-weight="bold" stroke="#111" stroke-width="0.18" textLength="10.5" lengthAdjust="spacingAndGlyphs">220VAC</text>
<line x1="391.5" y1="203.0" x2="417.5" y2="203.0" stroke="#444" stroke-width="0.7" />
<rect x="391" y="201.0" width="6.5" height="2.2" fill="#111" opacity="0.85" stroke="none"/>
<line x1="400.8" y1="203.0" x2="400.8" y2="206.39999999999998" stroke="#222" stroke-width="0.9" />
<rect x="400.0" y="204.79999999999998" width="1.7" height="1.7" fill="#111" opacity="0.9" stroke="none"/>
<rect x="444" y="56.7" width="65.80000000000001" height="15.700000000000003" stroke="#5a5a5a" stroke-width="0.8" fill="none" />
<line x1="444" y1="56.7" x2="509.8" y2="56.7" stroke="#333" stroke-width="1.0" />
<line x1="494.5" y1="67.7" x2="447.59999999999997" y2="67.7" stroke="#333" stroke-width="0.8" />
<line x1="447.59999999999997" y1="67.7" x2="447.59999999999997" y2="123.7" stroke="#333" stroke-width="0.8" />
<rect x="491.0" y="67.0" width="4" height="1.3" fill="#222" opacity="0.8" stroke="none"/>
<path d="M483.7 76.30000000000001 V67.10000000000001 Q483.7 65.7 485.2 65.7 Q486.7 65.7 486.7 67.10000000000001 V76.30000000000001" fill="#fff" stroke="#262626" stroke-width="0.9"/>
<line x1="483.7" y1="69.10000000000001" x2="486.7" y2="69.10000000000001" stroke="#555" stroke-width="0.6" />
<rect x="483.09999999999997" y="74.7" width="4.2" height="2.2" fill="#111" opacity="0.95" stroke="none"/>
<path d="M475.7 76.30000000000001 V67.10000000000001 Q475.7 65.7 477.2 65.7 Q478.7 65.7 478.7 67.10000000000001 V76.30000000000001" fill="#fff" stroke="#262626" stroke-width="0.9"/>
<line x1="475.7" y1="69.10000000000001" x2="478.7" y2="69.10000000000001" stroke="#555" stroke-width="0.6" />
<rect x="475.09999999999997" y="74.7" width="4.2" height="2.2" fill="#111" opacity="0.95" stroke="none"/>
<path d="M467.5 76.30000000000001 V67.10000000000001 Q467.5 65.7 469 65.7 Q470.5 65.7 470.5 67.10000000000001 V76.30000000000001" fill="#fff" stroke="#262626" stroke-width="0.9"/>
<line x1="467.5" y1="69.10000000000001" x2="470.5" y2="69.10000000000001" stroke="#555" stroke-width="0.6" />
<rect x="466.9" y="74.7" width="4.2" height="2.2" fill="#111" opacity="0.95" stroke="none"/>
<path d="M459.1 76.30000000000001 V67.10000000000001 Q459.1 65.7 460.6 65.7 Q462.1 65.7 462.1 67.10000000000001 V76.30000000000001" fill="#fff" stroke="#262626" stroke-width="0.9"/>
<line x1="459.1" y1="69.10000000000001" x2="462.1" y2="69.10000000000001" stroke="#555" stroke-width="0.6" />
<rect x="458.5" y="74.7" width="4.2" height="2.2" fill="#111" opacity="0.95" stroke="none"/>
<text x="500.3" y="60.300000000000004" font-size="3.5" fill="#000" font-weight="bold" stroke="#000" stroke-width="0.18" textLength="5.8" lengthAdjust="spacingAndGlyphs">VP3</text>
<rect x="444" y="85.3" width="65.80000000000001" height="15.700000000000003" stroke="#5a5a5a" stroke-width="0.8" fill="none" />
<line x1="444" y1="85.3" x2="509.8" y2="85.3" stroke="#333" stroke-width="1.0" />
<line x1="494.5" y1="96.3" x2="450.8" y2="96.3" stroke="#333" stroke-width="0.8" />
<line x1="450.8" y1="96.3" x2="450.8" y2="123.7" stroke="#333" stroke-width="0.8" />
<rect x="491.0" y="95.6" width="4" height="1.3" fill="#222" opacity="0.8" stroke="none"/>
<path d="M483.7 104.9 V95.7 Q483.7 94.3 485.2 94.3 Q486.7 94.3 486.7 95.7 V104.9" fill="#fff" stroke="#262626" stroke-width="0.9"/>
<line x1="483.7" y1="97.7" x2="486.7" y2="97.7" stroke="#555" stroke-width="0.6" />
<rect x="483.09999999999997" y="103.3" width="4.2" height="2.2" fill="#111" opacity="0.95" stroke="none"/>
<path d="M475.7 104.9 V95.7 Q475.7 94.3 477.2 94.3 Q478.7 94.3 478.7 95.7 V104.9" fill="#fff" stroke="#262626" stroke-width="0.9"/>
<line x1="475.7" y1="97.7" x2="478.7" y2="97.7" stroke="#555" stroke-width="0.6" />
<rect x="475.09999999999997" y="103.3" width="4.2" height="2.2" fill="#111" opacity="0.95" stroke="none"/>
<path d="M467.5 104.9 V95.7 Q467.5 94.3 469 94.3 Q470.5 94.3 470.5 95.7 V104.9" fill="#fff" stroke="#262626" stroke-width="0.9"/>
<line x1="467.5" y1="97.7" x2="470.5" y2="97.7" stroke="#555" stroke-width="0.6" />
<rect x="466.9" y="103.3" width="4.2" height="2.2" fill="#111" opacity="0.95" stroke="none"/>
<path d="M459.1 104.9 V95.7 Q459.1 94.3 460.6 94.3 Q462.1 94.3 462.1 95.7 V104.9" fill="#fff" stroke="#262626" stroke-width="0.9"/>
<line x1="459.1" y1="97.7" x2="462.1" y2="97.7" stroke="#555" stroke-width="0.6" />
<rect x="458.5" y="103.3" width="4.2" height="2.2" fill="#111" opacity="0.95" stroke="none"/>
<text x="500.3" y="88.89999999999999" font-size="3.5" fill="#000" font-weight="bold" stroke="#000" stroke-width="0.18" textLength="5.8" lengthAdjust="spacingAndGlyphs">VP2</text>
<rect x="424" y="114.4" width="86" height="15.699999999999989" stroke="#5a5a5a" stroke-width="0.8" fill="none" />
<line x1="424" y1="114.4" x2="510" y2="114.4" stroke="#333" stroke-width="1.0" />
<line x1="494.5" y1="125.2" x2="430.4" y2="125.2" stroke="#333" stroke-width="0.8" />
<rect x="491.0" y="124.5" width="4" height="1.3" fill="#222" opacity="0.8" stroke="none"/>
<path d="M483.7 133.8 V124.60000000000001 Q483.7 123.2 485.2 123.2 Q486.7 123.2 486.7 124.60000000000001 V133.8" fill="#fff" stroke="#262626" stroke-width="0.9"/>
<line x1="483.7" y1="126.60000000000001" x2="486.7" y2="126.60000000000001" stroke="#555" stroke-width="0.6" />
<rect x="483.09999999999997" y="132.20000000000002" width="4.2" height="2.2" fill="#111" opacity="0.95" stroke="none"/>
<path d="M475.7 133.8 V124.60000000000001 Q475.7 123.2 477.2 123.2 Q478.7 123.2 478.7 124.60000000000001 V133.8" fill="#fff" stroke="#262626" stroke-width="0.9"/>
<line x1="475.7" y1="126.60000000000001" x2="478.7" y2="126.60000000000001" stroke="#555" stroke-width="0.6" />
<rect x="475.09999999999997" y="132.20000000000002" width="4.2" height="2.2" fill="#111" opacity="0.95" stroke="none"/>
<path d="M467.5 133.8 V124.60000000000001 Q467.5 123.2 469 123.2 Q470.5 123.2 470.5 124.60000000000001 V133.8" fill="#fff" stroke="#262626" stroke-width="0.9"/>
<line x1="467.5" y1="126.60000000000001" x2="470.5" y2="126.60000000000001" stroke="#555" stroke-width="0.6" />
<rect x="466.9" y="132.20000000000002" width="4.2" height="2.2" fill="#111" opacity="0.95" stroke="none"/>
<path d="M459.1 133.8 V124.60000000000001 Q459.1 123.2 460.6 123.2 Q462.1 123.2 462.1 124.60000000000001 V133.8" fill="#fff" stroke="#262626" stroke-width="0.9"/>
<line x1="459.1" y1="126.60000000000001" x2="462.1" y2="126.60000000000001" stroke="#555" stroke-width="0.6" />
<rect x="458.5" y="132.20000000000002" width="4.2" height="2.2" fill="#111" opacity="0.95" stroke="none"/>
<text x="499.5" y="128.5" font-size="3.4" fill="#000" font-weight="bold" stroke="#000" stroke-width="0.18" textLength="5.6" lengthAdjust="spacingAndGlyphs">VP3</text>
<circle cx="449.2" cy="125.2" r="1.8" stroke="#3a3a3a" stroke-width="0.8" fill="#fff"/>
<circle cx="439.6" cy="125.2" r="1.6" stroke="#3a3a3a" stroke-width="0.8" fill="#fff"/>
<circle cx="430.4" cy="125.2" r="1.8" stroke="#3a3a3a" stroke-width="0.8" fill="#fff"/>
<rect x="431.59999999999997" y="119.60000000000001" width="3.4" height="1.2" fill="#333" opacity="0.75" stroke="none"/>
<text x="510.5" y="117.2" font-size="3.2" fill="#111" font-weight="bold" stroke="#111" stroke-width="0.18" textLength="10.5" lengthAdjust="spacingAndGlyphs">220VAC</text>
<line x1="496.5" y1="117.8" x2="522" y2="117.8" stroke="#444" stroke-width="0.7" />
<rect x="496" y="115.8" width="6.5" height="2.2" fill="#111" opacity="0.85" stroke="none"/>
<line x1="505.8" y1="117.8" x2="505.8" y2="121.2" stroke="#222" stroke-width="0.9" />
<rect x="505.0" y="119.6" width="1.7" height="1.7" fill="#111" opacity="0.9" stroke="none"/>
<rect x="444" y="142.0" width="65.80000000000001" height="16.0" stroke="#5a5a5a" stroke-width="0.8" fill="none" />
<line x1="444" y1="142.0" x2="509.8" y2="142.0" stroke="#333" stroke-width="1.0" />
<line x1="494.5" y1="153.0" x2="447.59999999999997" y2="153.0" stroke="#333" stroke-width="0.8" />
<line x1="447.59999999999997" y1="153.0" x2="447.59999999999997" y2="208.9" stroke="#333" stroke-width="0.8" />
<rect x="491.0" y="152.3" width="4" height="1.3" fill="#222" opacity="0.8" stroke="none"/>
<path d="M483.7 161.6 V152.4 Q483.7 151.0 485.2 151.0 Q486.7 151.0 486.7 152.4 V161.6" fill="#fff" stroke="#262626" stroke-width="0.9"/>
<line x1="483.7" y1="154.4" x2="486.7" y2="154.4" stroke="#555" stroke-width="0.6" />
<rect x="483.09999999999997" y="160.0" width="4.2" height="2.2" fill="#111" opacity="0.95" stroke="none"/>
<path d="M475.7 161.6 V152.4 Q475.7 151.0 477.2 151.0 Q478.7 151.0 478.7 152.4 V161.6" fill="#fff" stroke="#262626" stroke-width="0.9"/>
<line x1="475.7" y1="154.4" x2="478.7" y2="154.4" stroke="#555" stroke-width="0.6" />
<rect x="475.09999999999997" y="160.0" width="4.2" height="2.2" fill="#111" opacity="0.95" stroke="none"/>
<path d="M467.5 161.6 V152.4 Q467.5 151.0 469 151.0 Q470.5 151.0 470.5 152.4 V161.6" fill="#fff" stroke="#262626" stroke-width="0.9"/>
<line x1="467.5" y1="154.4" x2="470.5" y2="154.4" stroke="#555" stroke-width="0.6" />
<rect x="466.9" y="160.0" width="4.2" height="2.2" fill="#111" opacity="0.95" stroke="none"/>
<path d="M459.1 161.6 V152.4 Q459.1 151.0 460.6 151.0 Q462.1 151.0 462.1 152.4 V161.6" fill="#fff" stroke="#262626" stroke-width="0.9"/>
<line x1="459.1" y1="154.4" x2="462.1" y2="154.4" stroke="#555" stroke-width="0.6" />
<rect x="458.5" y="160.0" width="4.2" height="2.2" fill="#111" opacity="0.95" stroke="none"/>
<text x="500.3" y="145.6" font-size="3.5" fill="#000" font-weight="bold" stroke="#000" stroke-width="0.18" textLength="5.8" lengthAdjust="spacingAndGlyphs">VP2</text>
<rect x="444" y="170.5" width="65.80000000000001" height="15.699999999999989" stroke="#5a5a5a" stroke-width="0.8" fill="none" />
<line x1="444" y1="170.5" x2="509.8" y2="170.5" stroke="#333" stroke-width="1.0" />
<line x1="494.5" y1="181.5" x2="450.8" y2="181.5" stroke="#333" stroke-width="0.8" />
<line x1="450.8" y1="181.5" x2="450.8" y2="208.9" stroke="#333" stroke-width="0.8" />
<rect x="491.0" y="180.8" width="4" height="1.3" fill="#222" opacity="0.8" stroke="none"/>
<path d="M483.7 190.1 V180.9 Q483.7 179.5 485.2 179.5 Q486.7 179.5 486.7 180.9 V190.1" fill="#fff" stroke="#262626" stroke-width="0.9"/>
<line x1="483.7" y1="182.9" x2="486.7" y2="182.9" stroke="#555" stroke-width="0.6" />
<rect x="483.09999999999997" y="188.5" width="4.2" height="2.2" fill="#111" opacity="0.95" stroke="none"/>
<path d="M475.7 190.1 V180.9 Q475.7 179.5 477.2 179.5 Q478.7 179.5 478.7 180.9 V190.1" fill="#fff" stroke="#262626" stroke-width="0.9"/>
<line x1="475.7" y1="182.9" x2="478.7" y2="182.9" stroke="#555" stroke-width="0.6" />
<rect x="475.09999999999997" y="188.5" width="4.2" height="2.2" fill="#111" opacity="0.95" stroke="none"/>
<path d="M467.5 190.1 V180.9 Q467.5 179.5 469 179.5 Q470.5 179.5 470.5 180.9 V190.1" fill="#fff" stroke="#262626" stroke-width="0.9"/>
<line x1="467.5" y1="182.9" x2="470.5" y2="182.9" stroke="#555" stroke-width="0.6" />
<rect x="466.9" y="188.5" width="4.2" height="2.2" fill="#111" opacity="0.95" stroke="none"/>
<path d="M459.1 190.1 V180.9 Q459.1 179.5 460.6 179.5 Q462.1 179.5 462.1 180.9 V190.1" fill="#fff" stroke="#262626" stroke-width="0.9"/>
<line x1="459.1" y1="182.9" x2="462.1" y2="182.9" stroke="#555" stroke-width="0.6" />
<rect x="458.5" y="188.5" width="4.2" height="2.2" fill="#111" opacity="0.95" stroke="none"/>
<text x="500.3" y="174.1" font-size="3.5" fill="#000" font-weight="bold" stroke="#000" stroke-width="0.18" textLength="5.8" lengthAdjust="spacingAndGlyphs">VP1</text>
<rect x="424" y="199.6" width="86" height="15.5" stroke="#5a5a5a" stroke-width="0.8" fill="none" />
<line x1="424" y1="199.6" x2="510" y2="199.6" stroke="#333" stroke-width="1.0" />
<line x1="494.5" y1="210.4" x2="430.4" y2="210.4" stroke="#333" stroke-width="0.8" />
<rect x="491.0" y="209.70000000000002" width="4" height="1.3" fill="#222" opacity="0.8" stroke="none"/>
<path d="M483.7 219.0 V209.8 Q483.7 208.4 485.2 208.4 Q486.7 208.4 486.7 209.8 V219.0" fill="#fff" stroke="#262626" stroke-width="0.9"/>
<line x1="483.7" y1="211.8" x2="486.7" y2="211.8" stroke="#555" stroke-width="0.6" />
<rect x="483.09999999999997" y="217.4" width="4.2" height="2.2" fill="#111" opacity="0.95" stroke="none"/>
<path d="M475.7 219.0 V209.8 Q475.7 208.4 477.2 208.4 Q478.7 208.4 478.7 209.8 V219.0" fill="#fff" stroke="#262626" stroke-width="0.9"/>
<line x1="475.7" y1="211.8" x2="478.7" y2="211.8" stroke="#555" stroke-width="0.6" />
<rect x="475.09999999999997" y="217.4" width="4.2" height="2.2" fill="#111" opacity="0.95" stroke="none"/>
<path d="M467.5 219.0 V209.8 Q467.5 208.4 469 208.4 Q470.5 208.4 470.5 209.8 V219.0" fill="#fff" stroke="#262626" stroke-width="0.9"/>
<line x1="467.5" y1="211.8" x2="470.5" y2="211.8" stroke="#555" stroke-width="0.6" />
<rect x="466.9" y="217.4" width="4.2" height="2.2" fill="#111" opacity="0.95" stroke="none"/>
<path d="M459.1 219.0 V209.8 Q459.1 208.4 460.6 208.4 Q462.1 208.4 462.1 209.8 V219.0" fill="#fff" stroke="#262626" stroke-width="0.9"/>
<line x1="459.1" y1="211.8" x2="462.1" y2="211.8" stroke="#555" stroke-width="0.6" />
<rect x="458.5" y="217.4" width="4.2" height="2.2" fill="#111" opacity="0.95" stroke="none"/>
<text x="499.5" y="213.5" font-size="3.4" fill="#000" font-weight="bold" stroke="#000" stroke-width="0.18" textLength="5.6" lengthAdjust="spacingAndGlyphs">VP0</text>
<circle cx="449.2" cy="210.4" r="1.8" stroke="#3a3a3a" stroke-width="0.8" fill="#fff"/>
<circle cx="439.6" cy="210.4" r="1.6" stroke="#3a3a3a" stroke-width="0.8" fill="#fff"/>
<circle cx="430.4" cy="210.4" r="1.8" stroke="#3a3a3a" stroke-width="0.8" fill="#fff"/>
<rect x="431.59999999999997" y="204.8" width="3.4" height="1.2" fill="#333" opacity="0.75" stroke="none"/>
<text x="510.5" y="202.39999999999998" font-size="3.2" fill="#111" font-weight="bold" stroke="#111" stroke-width="0.18" textLength="10.5" lengthAdjust="spacingAndGlyphs">220VAC</text>
<line x1="496.5" y1="203.0" x2="522" y2="203.0" stroke="#444" stroke-width="0.7" />
<rect x="496" y="201.0" width="6.5" height="2.2" fill="#111" opacity="0.85" stroke="none"/>
<line x1="505.8" y1="203.0" x2="505.8" y2="206.39999999999998" stroke="#222" stroke-width="0.9" />
<rect x="505.0" y="204.79999999999998" width="1.7" height="1.7" fill="#111" opacity="0.9" stroke="none"/>
<line x1="168.7" y1="127.2" x2="168.7" y2="208.4" stroke="#333" stroke-width="0.9" />
<line x1="168.7" y1="212.4" x2="168.7" y2="235.3" stroke="#333" stroke-width="0.9" />
<line x1="272.6" y1="127.2" x2="272.6" y2="208.4" stroke="#333" stroke-width="0.9" />
<line x1="272.6" y1="212.4" x2="272.6" y2="232" stroke="#333" stroke-width="0.9" />
<line x1="325.6" y1="127.2" x2="325.6" y2="208.4" stroke="#333" stroke-width="0.9" />
<line x1="325.6" y1="212.4" x2="325.6" y2="229.2" stroke="#333" stroke-width="0.9" />
<line x1="430.4" y1="127.2" x2="430.4" y2="208.4" stroke="#333" stroke-width="0.9" />
<line x1="430.4" y1="212.4" x2="430.4" y2="235.3" stroke="#333" stroke-width="0.9" />
<line x1="168.7" y1="235.3" x2="430.4" y2="235.3" stroke="#333" stroke-width="0.9" />
<polyline points="273.5,232.2 277,229.2 325.6,229.2" stroke="#333" stroke-width="0.9" fill="none" />
<path d="M269.4 235.3 A3.2 3.2 0 0 1 275.8 235.3 Z" fill="#fff" stroke="#333" stroke-width="0.8"/>
<line x1="272.6" y1="235.3" x2="272.6" y2="307" stroke="#333" stroke-width="0.9" />
<polyline points="272.6,307 307,307 307,302.4" stroke="#333" stroke-width="0.9" fill="none" />
<text x="78" y="222.3" font-size="3.5" fill="#111" font-weight="bold" stroke="#111" stroke-width="0.18" textLength="24" lengthAdjust="spacingAndGlyphs">SYKV75-9 SC25</text>
<line x1="78" y1="223.20000000000002" x2="103" y2="223.20000000000002" stroke="#333" stroke-width="0.8" />
<polyline points="103,223.2 108.5,218.5" stroke="#444" stroke-width="0.7" fill="none" />
<text x="142.5" y="222.3" font-size="3.5" fill="#111" font-weight="bold" stroke="#111" stroke-width="0.18" textLength="22.5" lengthAdjust="spacingAndGlyphs">SYKV75-9 SC25</text>
<line x1="142" y1="223.20000000000002" x2="168.7" y2="223.20000000000002" stroke="#333" stroke-width="0.8" />
<text x="246.5" y="222.3" font-size="3.5" fill="#111" font-weight="bold" stroke="#111" stroke-width="0.18" textLength="22.0" lengthAdjust="spacingAndGlyphs">SYKV75-9 SC25</text>
<line x1="246" y1="223.20000000000002" x2="272.6" y2="223.20000000000002" stroke="#333" stroke-width="0.8" />
<text x="328" y="222.3" font-size="3.5" fill="#111" font-weight="bold" stroke="#111" stroke-width="0.18" textLength="24" lengthAdjust="spacingAndGlyphs">SYKV75-9 SC25</text>
<line x1="325.6" y1="223.20000000000002" x2="353" y2="223.20000000000002" stroke="#333" stroke-width="0.8" />
<text x="404" y="222.3" font-size="3.5" fill="#111" font-weight="bold" stroke="#111" stroke-width="0.18" textLength="25" lengthAdjust="spacingAndGlyphs">SYKV75-9 SC25</text>
<line x1="403" y1="223.20000000000002" x2="430.4" y2="223.20000000000002" stroke="#333" stroke-width="0.8" />
<text x="246.5" y="242.4" font-size="3.5" fill="#111" font-weight="bold" stroke="#111" stroke-width="0.18" textLength="23.5" lengthAdjust="spacingAndGlyphs">SYKV75-9 SC25</text>
<line x1="246" y1="243.3" x2="272.6" y2="243.3" stroke="#333" stroke-width="0.8" />
<line x1="282.6" y1="34.5" x2="282.6" y2="229.2" stroke="#333" stroke-width="0.9" />
<line x1="282.6" y1="231.5" x2="282.6" y2="233.6" stroke="#555" stroke-width="0.9" />
<line x1="282.6" y1="235.3" x2="282.6" y2="244" stroke="#333" stroke-width="0.9" />
<line x1="299.6" y1="34.5" x2="299.6" y2="229.2" stroke="#333" stroke-width="0.9" />
<line x1="299.6" y1="231.5" x2="299.6" y2="233.6" stroke="#555" stroke-width="0.9" />
<line x1="299.6" y1="235.3" x2="299.6" y2="240.6" stroke="#333" stroke-width="0.9" />
<polyline points="282.6,244 306.3,244 306.3,253" stroke="#333" stroke-width="0.9" fill="none" />
<polyline points="299.6,240.6 366,240.6 366,253" stroke="#333" stroke-width="0.9" fill="none" />
<path d="M282.6 36.5 Q283.1 33.8 285.8 33.4 L288.6 35.4" fill="none" stroke="#333" stroke-width="0.7"/>
<path d="M283.8 31.2 L286.20000000000005 33 M283.40000000000003 35.2 l1.5 -1.4" fill="none" stroke="#444" stroke-width="0.6"/>
<text x="287.40000000000003" y="40.8" font-size="3.4" fill="#111" font-weight="bold" stroke="#111" stroke-width="0.18" textLength="10.4" lengthAdjust="spacingAndGlyphs">AP-SAT</text>
<path d="M282.6 41.5 l3 2.2 l7 0.4 M285.1 42.2 l6.5 0.2" fill="none" stroke="#333" stroke-width="0.7"/>
<path d="M299.6 36.5 Q300.1 33.8 302.8 33.4 L305.6 35.4" fill="none" stroke="#333" stroke-width="0.7"/>
<path d="M300.8 31.2 L303.20000000000005 33 M300.40000000000003 35.2 l1.5 -1.4" fill="none" stroke="#444" stroke-width="0.6"/>
<text x="304.40000000000003" y="40.8" font-size="3.4" fill="#111" font-weight="bold" stroke="#111" stroke-width="0.18" textLength="10.4" lengthAdjust="spacingAndGlyphs">AP-ANT</text>
<path d="M299.6 41.5 l3 2.2 l7 0.4 M302.1 42.2 l6.5 0.2" fill="none" stroke="#333" stroke-width="0.7"/>
<rect x="247" y="250.3" width="174" height="74.7" stroke="#1a1a1a" stroke-width="0.9" fill="none" stroke-dasharray="5.8 2"/>
<rect x="302.29999999999995" y="253" width="8.3" height="4.6" stroke="#222" stroke-width="0.8" fill="#333" />
<rect x="304.0" y="254.1" width="1.4" height="2.4" fill="#fff" opacity="0.8" stroke="none"/>
<rect x="307.2" y="254.1" width="1.4" height="2.4" fill="#fff" opacity="0.8" stroke="none"/>
<line x1="304.2" y1="257.6" x2="304.2" y2="261.2" stroke="#444" stroke-width="0.6" />
<line x1="306.4" y1="257.6" x2="306.4" y2="261.2" stroke="#444" stroke-width="0.6" />
<line x1="308.59999999999997" y1="257.6" x2="308.59999999999997" y2="261.2" stroke="#444" stroke-width="0.6" />
<line x1="290.5" y1="261.2" x2="322.29999999999995" y2="261.2" stroke="#333" stroke-width="0.8" />
<line x1="290.5" y1="261.2" x2="290.5" y2="289.3" stroke="#444" stroke-width="0.8" />
<rect x="286.7" y="264.5" width="7.6" height="4.9" stroke="#444" stroke-width="0.8" fill="#fff" />
<path d="M289.2 268.2 L290.5 265.8 L291.8 268.2 Z" fill="none" stroke="#333" stroke-width="0.6"/>
<rect x="285.8" y="272.7" width="9.4" height="5.0" stroke="#444" stroke-width="0.8" fill="#fff" />
<rect x="286.2" y="273.1" width="4.6" height="2.2" fill="#222" opacity="0.85" stroke="none"/>
<rect x="290.8" y="274.0" width="3.6" height="1.4" fill="#333" opacity="0.7" stroke="none"/>
<rect x="286.8" y="280.6" width="7.4" height="5.0" stroke="#444" stroke-width="0.8" fill="#fff" />
<path d="M288.9 282 L290.5 284.6 L292.1 282" fill="none" stroke="#333" stroke-width="0.6"/>
<line x1="306.4" y1="261.2" x2="306.4" y2="289.3" stroke="#444" stroke-width="0.8" />
<rect x="302.59999999999997" y="264.5" width="7.6" height="4.9" stroke="#444" stroke-width="0.8" fill="#fff" />
<path d="M305.09999999999997 268.2 L306.4 265.8 L307.7 268.2 Z" fill="none" stroke="#333" stroke-width="0.6"/>
<rect x="301.7" y="272.7" width="9.4" height="5.0" stroke="#444" stroke-width="0.8" fill="#fff" />
<rect x="302.09999999999997" y="273.1" width="4.6" height="2.2" fill="#222" opacity="0.85" stroke="none"/>
<rect x="306.7" y="274.0" width="3.6" height="1.4" fill="#333" opacity="0.7" stroke="none"/>
<rect x="302.7" y="280.6" width="7.4" height="5.0" stroke="#444" stroke-width="0.8" fill="#fff" />
<path d="M304.79999999999995 282 L306.4 284.6 L308.0 282" fill="none" stroke="#333" stroke-width="0.6"/>
<line x1="322.29999999999995" y1="261.2" x2="322.29999999999995" y2="289.3" stroke="#444" stroke-width="0.8" />
<rect x="318.49999999999994" y="264.5" width="7.6" height="4.9" stroke="#444" stroke-width="0.8" fill="#fff" />
<path d="M320.99999999999994 268.2 L322.29999999999995 265.8 L323.59999999999997 268.2 Z" fill="none" stroke="#333" stroke-width="0.6"/>
<rect x="317.59999999999997" y="272.7" width="9.4" height="5.0" stroke="#444" stroke-width="0.8" fill="#fff" />
<rect x="317.99999999999994" y="273.1" width="4.6" height="2.2" fill="#222" opacity="0.85" stroke="none"/>
<rect x="322.59999999999997" y="274.0" width="3.6" height="1.4" fill="#333" opacity="0.7" stroke="none"/>
<rect x="318.59999999999997" y="280.6" width="7.4" height="5.0" stroke="#444" stroke-width="0.8" fill="#fff" />
<path d="M320.69999999999993 282 L322.29999999999995 284.6 L323.9 282" fill="none" stroke="#333" stroke-width="0.6"/>
<rect x="361.9" y="253" width="8.3" height="4.6" stroke="#222" stroke-width="0.8" fill="#333" />
<rect x="363.6" y="254.1" width="1.4" height="2.4" fill="#fff" opacity="0.8" stroke="none"/>
<rect x="366.8" y="254.1" width="1.4" height="2.4" fill="#fff" opacity="0.8" stroke="none"/>
<line x1="363.8" y1="257.6" x2="363.8" y2="261.2" stroke="#444" stroke-width="0.6" />
<line x1="366" y1="257.6" x2="366" y2="261.2" stroke="#444" stroke-width="0.6" />
<line x1="368.2" y1="257.6" x2="368.2" y2="261.2" stroke="#444" stroke-width="0.6" />
<line x1="350.1" y1="261.2" x2="381.9" y2="261.2" stroke="#333" stroke-width="0.8" />
<line x1="350.1" y1="261.2" x2="350.1" y2="289.3" stroke="#444" stroke-width="0.8" />
<rect x="346.3" y="264.5" width="7.6" height="4.9" stroke="#444" stroke-width="0.8" fill="#fff" />
<path d="M348.8 268.2 L350.1 265.8 L351.40000000000003 268.2 Z" fill="none" stroke="#333" stroke-width="0.6"/>
<rect x="345.40000000000003" y="272.7" width="9.4" height="5.0" stroke="#444" stroke-width="0.8" fill="#fff" />
<rect x="345.8" y="273.1" width="4.6" height="2.2" fill="#222" opacity="0.85" stroke="none"/>
<rect x="350.40000000000003" y="274.0" width="3.6" height="1.4" fill="#333" opacity="0.7" stroke="none"/>
<rect x="346.40000000000003" y="280.6" width="7.4" height="5.0" stroke="#444" stroke-width="0.8" fill="#fff" />
<path d="M348.5 282 L350.1 284.6 L351.70000000000005 282" fill="none" stroke="#333" stroke-width="0.6"/>
<line x1="366" y1="261.2" x2="366" y2="289.3" stroke="#444" stroke-width="0.8" />
<rect x="362.2" y="264.5" width="7.6" height="4.9" stroke="#444" stroke-width="0.8" fill="#fff" />
<path d="M364.7 268.2 L366 265.8 L367.3 268.2 Z" fill="none" stroke="#333" stroke-width="0.6"/>
<rect x="361.3" y="272.7" width="9.4" height="5.0" stroke="#444" stroke-width="0.8" fill="#fff" />
<rect x="361.7" y="273.1" width="4.6" height="2.2" fill="#222" opacity="0.85" stroke="none"/>
<rect x="366.3" y="274.0" width="3.6" height="1.4" fill="#333" opacity="0.7" stroke="none"/>
<rect x="362.3" y="280.6" width="7.4" height="5.0" stroke="#444" stroke-width="0.8" fill="#fff" />
<path d="M364.4 282 L366 284.6 L367.6 282" fill="none" stroke="#333" stroke-width="0.6"/>
<line x1="381.9" y1="261.2" x2="381.9" y2="289.3" stroke="#444" stroke-width="0.8" />
<rect x="378.09999999999997" y="264.5" width="7.6" height="4.9" stroke="#444" stroke-width="0.8" fill="#fff" />
<path d="M380.59999999999997 268.2 L381.9 265.8 L383.2 268.2 Z" fill="none" stroke="#333" stroke-width="0.6"/>
<rect x="377.2" y="272.7" width="9.4" height="5.0" stroke="#444" stroke-width="0.8" fill="#fff" />
<rect x="377.59999999999997" y="273.1" width="4.6" height="2.2" fill="#222" opacity="0.85" stroke="none"/>
<rect x="382.2" y="274.0" width="3.6" height="1.4" fill="#333" opacity="0.7" stroke="none"/>
<rect x="378.2" y="280.6" width="7.4" height="5.0" stroke="#444" stroke-width="0.8" fill="#fff" />
<path d="M380.29999999999995 282 L381.9 284.6 L383.5 282" fill="none" stroke="#333" stroke-width="0.6"/>
<rect x="279" y="289.3" width="128.6" height="13.1" stroke="#333" stroke-width="0.9" fill="#fff" />
<rect x="336.5" y="293.8" width="7.5" height="3.0" fill="#111" opacity="0.85" stroke="none"/>
<path d="M396.8 297 L399 293.6 L401.2 297 Z M399 297 v1.2" fill="none" stroke="#444" stroke-width="0.6"/>
<line x1="349" y1="303" x2="349" y2="318" stroke="#333" stroke-width="0.8" />
<path d="M346.6 308.8 L349 303 L351.4 308.8 Z" fill="#fff" stroke="#333" stroke-width="0.8"/>
<line x1="349" y1="314" x2="354" y2="314" stroke="#444" stroke-width="0.6" />
<rect x="354" y="311.8" width="8.5" height="2.0" fill="#333" opacity="0.7" stroke="none"/>
<rect x="352.5" y="316.2" width="11" height="2.0" fill="#222" opacity="0.75" stroke="none"/>
<rect x="295.5" y="315.2" width="54" height="3.2" fill="#222" opacity="0.75" stroke="none"/>
<rect x="295.5" y="315.2" width="10" height="3.2" fill="#111" opacity="0.5" stroke="none"/>
<rect x="330" y="315.2" width="19" height="3.2" fill="#111" opacity="0.5" stroke="none"/>
<line x1="295" y1="319.2" x2="350" y2="319.2" stroke="#333" stroke-width="0.8" />
<rect x="308.5" y="321" width="10" height="2.6" fill="#222" opacity="0.75" stroke="none"/>
<rect x="94.5" y="346.2" width="2.6" height="2.4" fill="#111" opacity="0.85" stroke="none"/>
<rect x="99.8" y="346.2" width="2.6" height="2.4" fill="#111" opacity="0.85" stroke="none"/>
<rect x="105.1" y="346.2" width="2.6" height="2.4" fill="#111" opacity="0.85" stroke="none"/>
<rect x="110.3" y="346.2" width="2.6" height="2.4" fill="#111" opacity="0.85" stroke="none"/>
<rect x="77" y="351.59999999999997" width="71.5" height="3.2000000000000455" fill="url(#cjk)" opacity="0.92"/>
<rect x="154.5" y="351.59999999999997" width="42.5" height="3.2000000000000455" fill="url(#cjk)" opacity="0.92"/>
<rect x="77" y="355.4" width="7" height="3.2000000000000455" fill="url(#cjk)" opacity="0.92"/>
<rect x="94.5" y="355.4" width="12.799999999999997" height="3.2000000000000455" fill="url(#cjk)" opacity="0.92"/>
<rect x="108.8" y="355.4" width="34.2" height="3.2000000000000455" fill="url(#cjk)" opacity="0.92"/>
<rect x="149.5" y="355.4" width="23.0" height="3.2000000000000455" fill="url(#cjk)" opacity="0.92"/>
<rect x="175.5" y="355.4" width="24.5" height="3.2000000000000455" fill="url(#cjk)" opacity="0.92"/>
<rect x="77" y="359.59999999999997" width="14.599999999999994" height="3.2000000000000455" fill="url(#cjk)" opacity="0.92"/>
<rect x="77" y="364.59999999999997" width="1.5999999999999943" height="3.2000000000000455" fill="url(#cjk)" opacity="0.92"/>
<rect x="79.4" y="364.59999999999997" width="55.599999999999994" height="3.2000000000000455" fill="url(#cjk)" opacity="0.92"/>
<rect x="77" y="368.4" width="1.5999999999999943" height="3.2000000000000455" fill="url(#cjk)" opacity="0.92"/>
<rect x="79.4" y="368.4" width="80.6" height="3.2000000000000455" fill="url(#cjk)" opacity="0.92"/>
<rect x="77" y="372.59999999999997" width="1.5999999999999943" height="3.2000000000000455" fill="url(#cjk)" opacity="0.92"/>
<rect x="79.4" y="372.59999999999997" width="69.6" height="3.2000000000000455" fill="url(#cjk)" opacity="0.92"/>
<rect x="304.6" y="345.0" width="3.0" height="2.7" fill="#111" opacity="0.9" stroke="none"/>
<rect x="316.6" y="345.0" width="3.0" height="2.7" fill="#111" opacity="0.9" stroke="none"/>
<line x1="297" y1="348.7" x2="323.3" y2="348.7" stroke="#333" stroke-width="0.8" />
<rect x="267" y="353.3" width="83.8" height="24.7" stroke="#444" stroke-width="0.8" fill="none" />
<line x1="267" y1="359.2" x2="350.8" y2="359.2" stroke="#555" stroke-width="0.7" />
<line x1="267" y1="365" x2="350.8" y2="365" stroke="#555" stroke-width="0.7" />
<line x1="267" y1="371.7" x2="350.8" y2="371.7" stroke="#555" stroke-width="0.7" />
<line x1="278.7" y1="353.3" x2="278.7" y2="378" stroke="#555" stroke-width="0.7" />
<line x1="309.5" y1="353.3" x2="309.5" y2="378" stroke="#555" stroke-width="0.7" />
<line x1="320.8" y1="353.3" x2="320.8" y2="378" stroke="#555" stroke-width="0.7" />
<rect x="283.3" y="354.7" width="10.899999999999977" height="3.3000000000000114" fill="#0a0a0a" opacity="0.88" stroke="none"/>
<rect x="283.3" y="360.8" width="15.0" height="3.3999999999999773" fill="#0a0a0a" opacity="0.88" stroke="none"/>
<rect x="283.3" y="367" width="15.300000000000011" height="3.5" fill="#0a0a0a" opacity="0.88" stroke="none"/>
<rect x="283.3" y="373.8" width="12.5" height="3.1999999999999886" fill="#0a0a0a" opacity="0.88" stroke="none"/>
<rect x="325" y="354.7" width="16.69999999999999" height="3.3000000000000114" fill="#0a0a0a" opacity="0.88" stroke="none"/>
<rect x="325.8" y="360.8" width="15.899999999999977" height="3.3999999999999773" fill="#0a0a0a" opacity="0.88" stroke="none"/>
<rect x="325.8" y="367" width="11.699999999999989" height="3.5" fill="#0a0a0a" opacity="0.88" stroke="none"/>
<rect x="269" y="354.8" width="7.4" height="3.2" stroke="#333" stroke-width="0.6" fill="none" />
<rect x="269.6" y="355.4" width="3.2" height="1.6" fill="#333" opacity="0.7" stroke="none"/>
<rect x="273.6" y="356.2" width="2.2" height="1.2" fill="#444" opacity="0.6" stroke="none"/>
<rect x="269" y="360.9" width="7.0" height="3.3" stroke="#333" stroke-width="0.6" fill="none" />
<line x1="269" y1="362.6" x2="276" y2="362.6" stroke="#444" stroke-width="0.5" />
<line x1="272.5" y1="360.9" x2="272.5" y2="364.2" stroke="#555" stroke-width="0.5" />
<path d="M270.8 367.2 h4 L272.8 370.6 Z" fill="none" stroke="#333" stroke-width="0.6"/>
<path d="M271 376.8 h3 M272.5 376.8 v-2.6 l1.6 -0.9" fill="none" stroke="#333" stroke-width="0.6"/>
<rect x="311.8" y="355" width="5.6" height="3.2" stroke="#333" stroke-width="0.6" fill="#666" />
<rect x="312.6" y="355.6" width="1.6" height="2.0" fill="#222" opacity="0.8" stroke="none"/>
<rect x="315" y="355.6" width="1.6" height="2.0" fill="#222" opacity="0.8" stroke="none"/>
<rect x="311.8" y="361" width="5.6" height="3.2" stroke="#555" stroke-width="0.6" fill="none" />
<path d="M312.6 370 h3.4 l1.2 -1.2" fill="none" stroke="#444" stroke-width="0.6"/>
<path d="M448.80 347.30 H453.80 M448.80 349.35 H452.80 M449.80 351.40 H453.80 M451.30 347.00 V351.70 M453.50 347.00 V351.70 M451.30 349.35 L453.80 351.70 M451.30 348.88 L448.80 351.70" fill="none" stroke="#111" stroke-width="0.95"/>
<rect x="449.3" y="347.6" width="4.0" height="3.5" fill="#222" opacity="0.35" stroke="none"/>
<path d="M454.80 347.30 H458.80 M454.80 349.35 H458.80 M454.80 351.40 H459.80 M455.10 347.00 V351.70 M457.30 348.18 V351.70 M459.50 348.18 V350.76 M457.30 349.35 L459.80 351.70 M457.30 348.88 L454.80 351.70" fill="none" stroke="#111" stroke-width="0.95"/>
<rect x="455.3" y="347.6" width="4.0" height="3.5" fill="#222" opacity="0.35" stroke="none"/>
<path d="M460.80 347.30 H465.80 M460.80 349.35 H464.80 M460.80 351.40 H465.80 M461.10 347.00 V351.70 M463.30 347.00 V351.70 M465.50 347.00 V350.76 M463.30 348.88 L460.80 351.70" fill="none" stroke="#111" stroke-width="0.95"/>
<rect x="461.3" y="347.6" width="4.0" height="3.5" fill="#222" opacity="0.35" stroke="none"/>
<path d="M466.80 347.30 H471.80 M466.80 349.35 H470.80 M467.10 347.00 V351.70 M469.30 347.00 V351.70 M471.50 348.18 V351.70 M469.30 348.88 L466.80 351.70" fill="none" stroke="#111" stroke-width="0.95"/>
<rect x="467.3" y="347.6" width="4.0" height="3.5" fill="#222" opacity="0.35" stroke="none"/>
<path d="M473.80 349.35 H477.80 M473.80 351.40 H477.80 M473.10 347.00 V351.70 M475.30 348.18 V351.70 M477.50 348.18 V351.70" fill="none" stroke="#111" stroke-width="0.95"/>
<rect x="473.3" y="347.6" width="4.0" height="3.5" fill="#222" opacity="0.35" stroke="none"/>
<path d="M478.80 347.30 H482.80 M479.80 349.35 H483.80 M478.80 351.40 H483.80 M479.10 347.00 V351.70 M481.30 347.00 V351.70 M483.50 347.00 V351.70 M481.30 348.88 L478.80 351.70" fill="none" stroke="#111" stroke-width="0.95"/>
<rect x="479.3" y="347.6" width="4.0" height="3.5" fill="#222" opacity="0.35" stroke="none"/>
<path d="M484.80 347.30 H488.80 M484.80 349.35 H489.80 M485.10 347.00 V351.70 M487.30 347.00 V351.70 M489.50 347.00 V351.70 M487.30 349.35 L489.80 351.70 M487.30 348.88 L484.80 351.70" fill="none" stroke="#111" stroke-width="0.95"/>
<rect x="485.3" y="347.6" width="4.0" height="3.5" fill="#222" opacity="0.35" stroke="none"/>
<path d="M491.80 347.30 H495.80 M490.80 349.35 H495.80 M490.80 351.40 H494.80 M491.10 347.00 V350.76" fill="none" stroke="#111" stroke-width="0.95"/>
<rect x="491.3" y="347.6" width="4.0" height="3.5" fill="#222" opacity="0.35" stroke="none"/>
<path d="M497.80 347.30 H500.80 M496.80 349.35 H501.80 M497.80 351.40 H501.80 M497.10 347.00 V351.70 M499.30 347.00 V351.70 M501.50 347.00 V351.70 M499.30 349.35 L501.80 351.70 M499.30 348.88 L496.80 351.70" fill="none" stroke="#111" stroke-width="0.95"/>
<rect x="497.3" y="347.6" width="4.0" height="3.5" fill="#222" opacity="0.35" stroke="none"/>
<path d="M502.80 349.35 H507.80 M502.80 351.40 H506.80 M503.10 347.00 V350.76 M505.30 347.00 V351.70 M505.30 348.88 L502.80 351.70" fill="none" stroke="#111" stroke-width="0.95"/>
<rect x="503.3" y="347.6" width="4.0" height="3.5" fill="#222" opacity="0.35" stroke="none"/>
<line x1="446" y1="353.2" x2="510.8" y2="353.2" stroke="#111" stroke-width="0.95" />
<path d="M421.6 392 V365.6 H591.3" fill="none" stroke="#111" stroke-width="1.2"/>
<line x1="421.6" y1="374.2" x2="591.3" y2="374.2" stroke="#333" stroke-width="0.8" />
<line x1="421.6" y1="380" x2="483.2" y2="380" stroke="#444" stroke-width="0.7" />
<line x1="489.6" y1="379.6" x2="591.3" y2="379.6" stroke="#444" stroke-width="0.7" />
<line x1="421.6" y1="385.7" x2="483.2" y2="385.7" stroke="#444" stroke-width="0.7" />
<line x1="544" y1="385.7" x2="591.3" y2="385.7" stroke="#444" stroke-width="0.7" />
<line x1="449.2" y1="374.2" x2="449.2" y2="392" stroke="#444" stroke-width="0.7" />
<line x1="455.6" y1="374.2" x2="455.6" y2="392" stroke="#444" stroke-width="0.7" />
<line x1="483.2" y1="374.2" x2="483.2" y2="392" stroke="#444" stroke-width="0.7" />
<line x1="489.6" y1="374.2" x2="489.6" y2="392" stroke="#444" stroke-width="0.7" />
<line x1="544" y1="374.2" x2="544" y2="392" stroke="#444" stroke-width="0.7" />
<line x1="556.8" y1="379.6" x2="556.8" y2="392" stroke="#444" stroke-width="0.7" />
<line x1="568.3" y1="365.8" x2="568.3" y2="392" stroke="#333" stroke-width="0.8" />
<line x1="580.2" y1="365.8" x2="580.2" y2="392" stroke="#333" stroke-width="0.8" />
<rect x="423.09999999999997" y="375.8" width="2.6" height="2.8" fill="#0a0a0a" opacity="0.95" stroke="none"/>
<rect x="430.5" y="375.8" width="2.6" height="2.8" fill="#0a0a0a" opacity="0.95" stroke="none"/>
<rect x="423.09999999999997" y="381.6" width="2.6" height="2.8" fill="#0a0a0a" opacity="0.95" stroke="none"/>
<rect x="430.5" y="381.6" width="2.6" height="2.8" fill="#0a0a0a" opacity="0.95" stroke="none"/>
<rect x="423.4" y="387.8" width="10.5" height="3.0" fill="#0a0a0a" opacity="0.9" stroke="none"/>
<rect x="457.2" y="376" width="9.4" height="3.0" fill="#0a0a0a" opacity="0.9" stroke="none"/>
<rect x="457.09999999999997" y="381.6" width="2.6" height="2.8" fill="#0a0a0a" opacity="0.95" stroke="none"/>
<rect x="464.09999999999997" y="381.6" width="2.6" height="2.8" fill="#0a0a0a" opacity="0.95" stroke="none"/>
<rect x="457.09999999999997" y="387.40000000000003" width="2.6" height="2.8" fill="#0a0a0a" opacity="0.95" stroke="none"/>
<rect x="464.09999999999997" y="387.40000000000003" width="2.6" height="2.8" fill="#0a0a0a" opacity="0.95" stroke="none"/>
<rect x="491.6" y="376" width="9.6" height="3.0" fill="#0a0a0a" opacity="0.9" stroke="none"/>
<rect x="491.7" y="381.6" width="2.6" height="2.8" fill="#0a0a0a" opacity="0.95" stroke="none"/>
<rect x="498.7" y="381.6" width="2.6" height="2.8" fill="#0a0a0a" opacity="0.95" stroke="none"/>
<rect x="505.6" y="386.4" width="29.4" height="3.0" fill="#0a0a0a" opacity="0.9" stroke="none"/>
<rect x="569.6" y="368.4" width="9.4" height="3.0" fill="#0a0a0a" opacity="0.9" stroke="none"/>
<rect x="546" y="376" width="9.4" height="3.0" fill="#0a0a0a" opacity="0.9" stroke="none"/>
<rect x="569.1" y="375.8" width="2.6" height="2.8" fill="#0a0a0a" opacity="0.95" stroke="none"/>
<rect x="576.3000000000001" y="375.8" width="2.6" height="2.8" fill="#0a0a0a" opacity="0.95" stroke="none"/>
<rect x="545.1" y="381.40000000000003" width="2.6" height="2.8" fill="#0a0a0a" opacity="0.95" stroke="none"/>
<rect x="551.7" y="381.40000000000003" width="2.6" height="2.8" fill="#0a0a0a" opacity="0.95" stroke="none"/>
<rect x="545.1" y="387.40000000000003" width="2.6" height="2.8" fill="#0a0a0a" opacity="0.95" stroke="none"/>
<rect x="551.7" y="387.40000000000003" width="2.6" height="2.8" fill="#0a0a0a" opacity="0.95" stroke="none"/>
<rect x="558.2" y="381.4" width="8.4" height="3.0" fill="#0a0a0a" opacity="0.9" stroke="none"/>
<rect x="569.2" y="381.4" width="9.6" height="3.0" fill="#0a0a0a" opacity="0.9" stroke="none"/>
<rect x="581.4" y="381.6" width="8.8" height="2.8" fill="#111" opacity="0.85" stroke="none"/>
<rect x="558.6" y="387.6" width="5.6" height="3.0" fill="#0a0a0a" opacity="0.9" stroke="none"/>
<rect x="569.1" y="387.40000000000003" width="2.6" height="2.8" fill="#0a0a0a" opacity="0.95" stroke="none"/>
<rect x="576.1" y="387.40000000000003" width="2.6" height="2.8" fill="#0a0a0a" opacity="0.95" stroke="none"/>
<rect x="581.4" y="387.6" width="8.8" height="2.8" fill="#111" opacity="0.85" stroke="none"/>
</g>
</svg>
</body></html>
